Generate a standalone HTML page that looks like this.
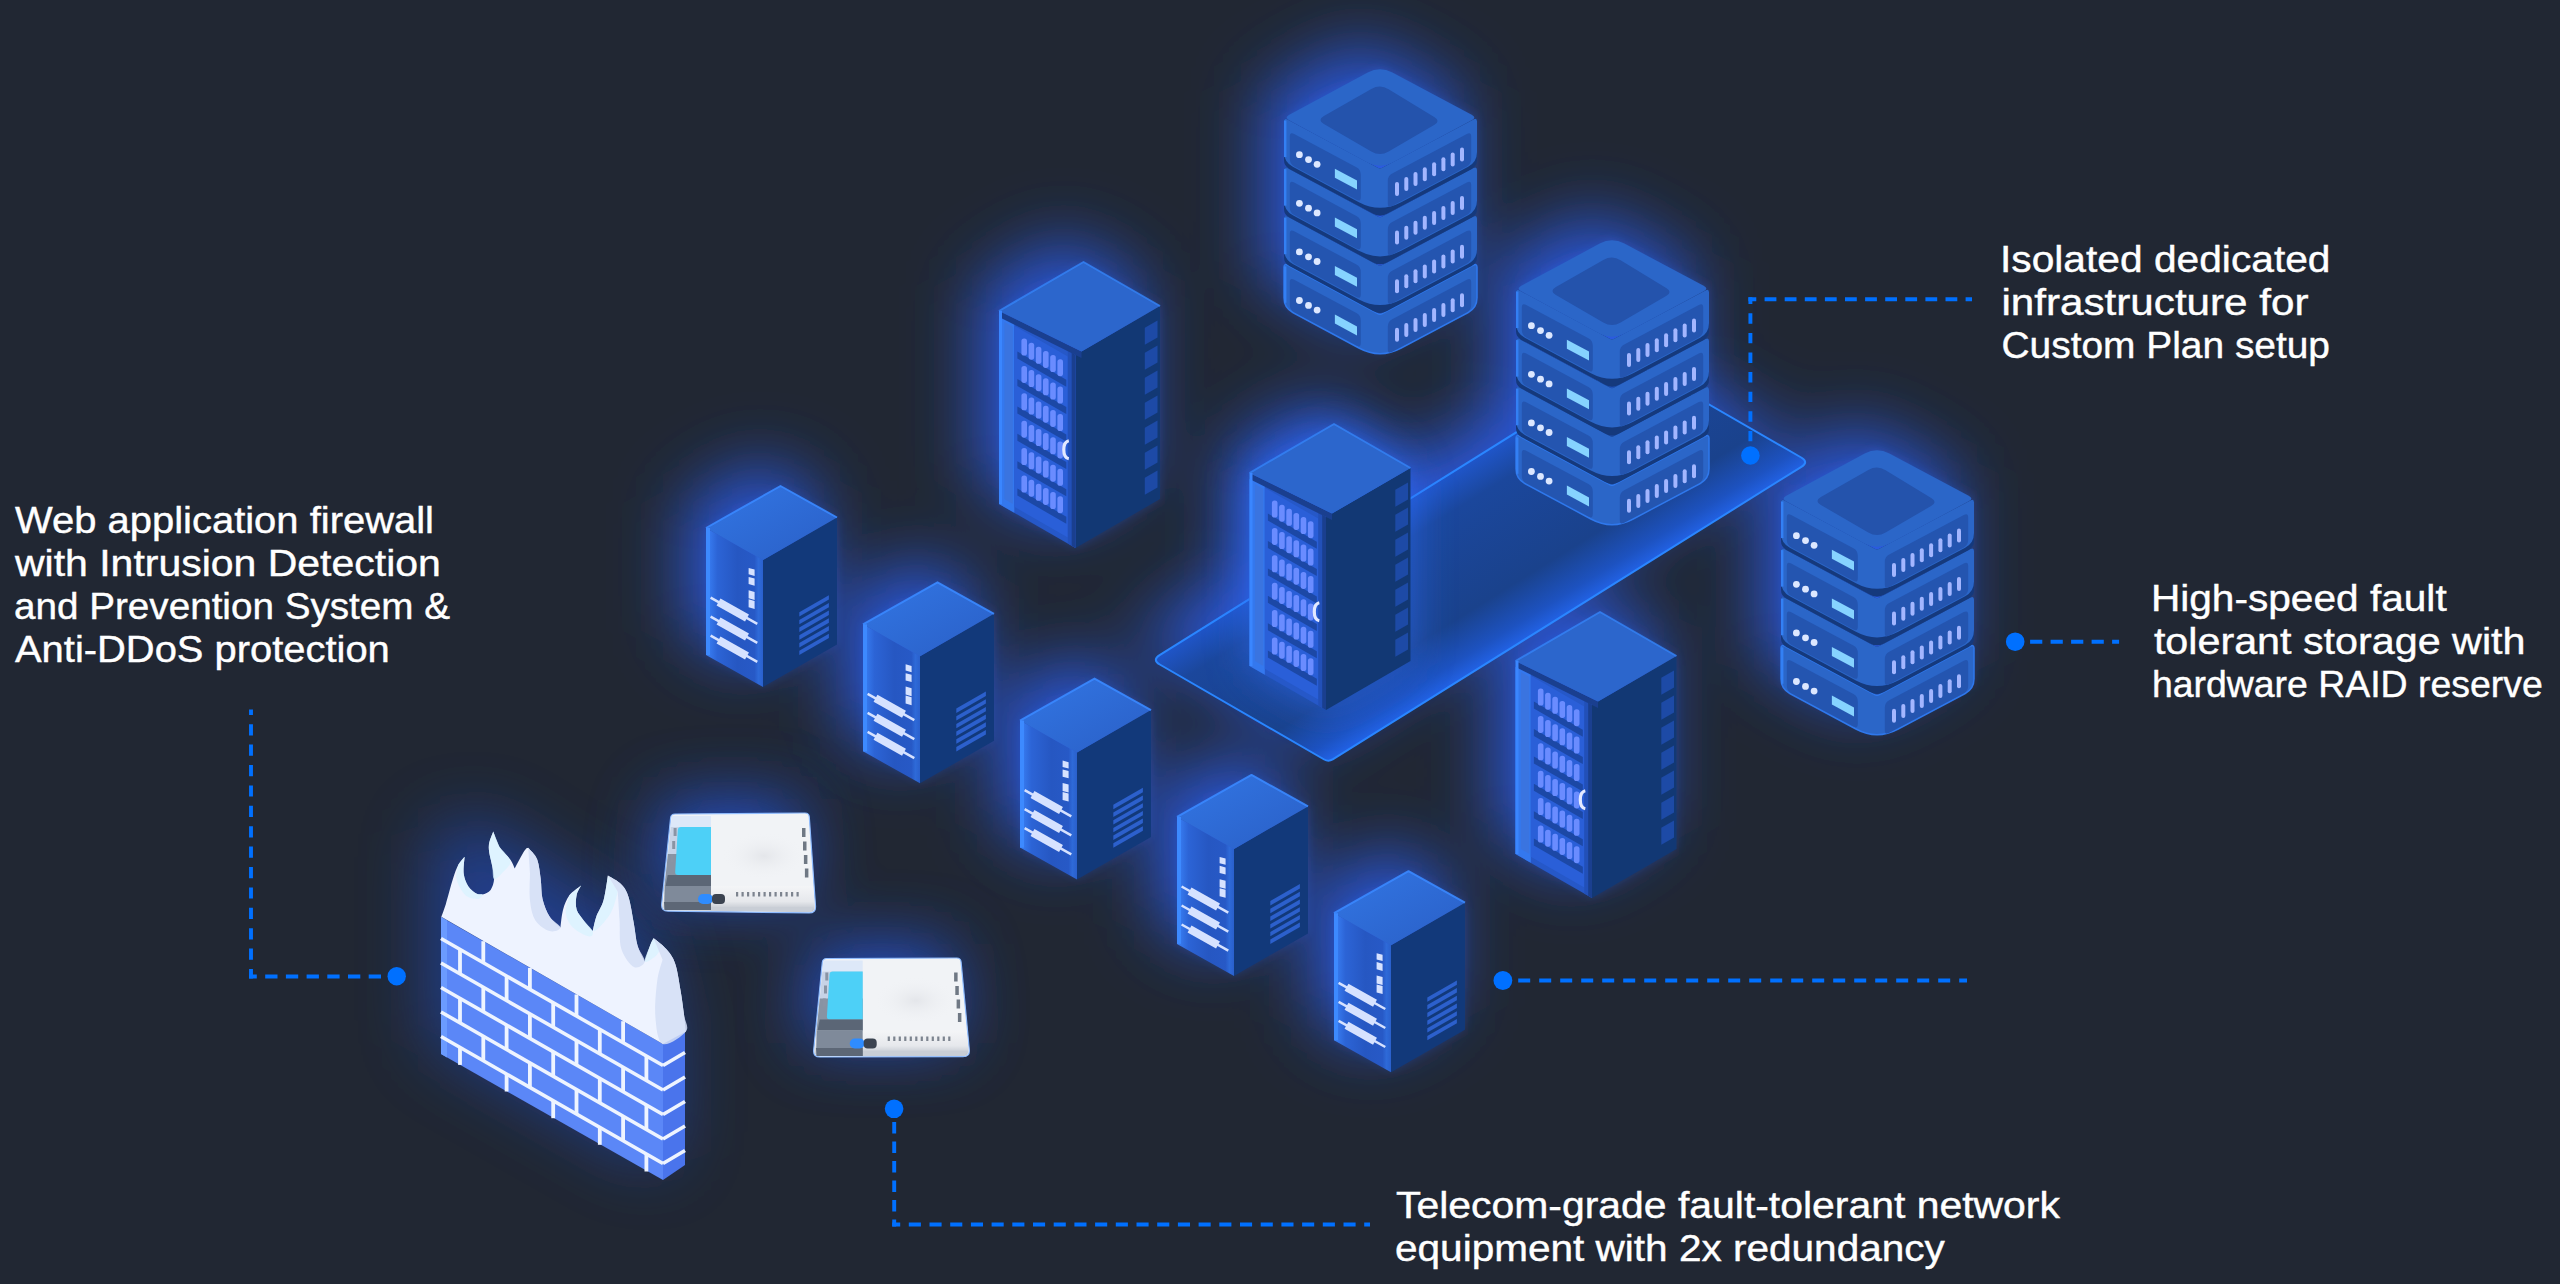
<!DOCTYPE html>
<html><head><meta charset="utf-8"><style>
html,body{margin:0;padding:0;background:#212733;width:2560px;height:1284px;overflow:hidden}
svg{display:block}
</style></head><body>
<svg width="2560" height="1284" viewBox="0 0 2560 1284">
<defs>
<linearGradient id="twL" x1="0" y1="0" x2="1" y2="0">
<stop offset="0" stop-color="#3a82f8"/><stop offset="0.2" stop-color="#2c64d6"/><stop offset="0.55" stop-color="#2657c2"/><stop offset="0.85" stop-color="#2759c6"/><stop offset="0.92" stop-color="#2e6ad8"/><stop offset="1" stop-color="#2a60cc"/></linearGradient>
<linearGradient id="twT" x1="0" y1="0" x2="1" y2="1">
<stop offset="0" stop-color="#3276e4"/><stop offset="1" stop-color="#2a5fc6"/></linearGradient>
<radialGradient id="rtShade"><stop offset="0" stop-color="#e4e6ea"/><stop offset="1" stop-color="#f1f3f6" stop-opacity="0"/></radialGradient>
<linearGradient id="rtFront" x1="0" y1="0" x2="0" y2="1"><stop offset="0" stop-color="#f4f5f7"/><stop offset="0.6" stop-color="#e6e8ec"/><stop offset="1" stop-color="#b8bec7"/></linearGradient>
<linearGradient id="plat" gradientUnits="userSpaceOnUse" x1="1152" y1="660" x2="1247" y2="813">
<stop offset="0" stop-color="#1f55c8"/><stop offset="0.18" stop-color="#1b479c"/><stop offset="0.7" stop-color="#1a428c"/><stop offset="0.9" stop-color="#1d52c0"/><stop offset="1" stop-color="#2262e6"/></linearGradient>
<filter id="glowW" x="-50%" y="-50%" width="200%" height="200%"><feGaussianBlur stdDeviation="34"/></filter>
<filter id="glowL" x="-50%" y="-50%" width="200%" height="200%"><feGaussianBlur stdDeviation="22"/></filter>
<filter id="glowN" x="-50%" y="-50%" width="200%" height="200%"><feGaussianBlur stdDeviation="5"/></filter>
</defs>
<rect width="2560" height="1284" fill="#212733"/>
<g filter="url(#glowW)" opacity="1.0" transform="translate(-20,-24)"><polygon points="1380.0,66.0 1477.0,117.0 1477.0,302.0 1380.0,353.0 1284.0,302.0 1284.0,117.0" fill="#2a56d8" />
<polygon points="1612.0,237.0 1709.0,288.0 1709.0,473.0 1612.0,524.0 1516.0,473.0 1516.0,288.0" fill="#2a56d8" />
<polygon points="1877.0,447.0 1974.0,498.0 1974.0,683.0 1877.0,734.0 1781.0,683.0 1781.0,498.0" fill="#2a56d8" />
<polygon points="1083.5,262.0 1160.0,306.0 1160.0,499.0 1075.5,548.0 999.0,504.0 999.0,311.0" fill="#2a56d8" />
<polygon points="1334.0,424.0 1410.5,468.0 1410.5,661.0 1326.0,710.0 1249.5,666.0 1249.5,473.0" fill="#2a56d8" />
<polygon points="1600.0,612.0 1676.5,656.0 1676.5,849.0 1592.0,898.0 1515.5,854.0 1515.5,661.0" fill="#2a56d8" />
<polygon points="780.5,486.0 837.0,517.5 837.0,643.5 763.0,686.0 706.0,654.0 706.0,528.0" fill="#2a56d8" />
<polygon points="937.5,582.3 994.0,613.8 994.0,739.8 920.0,782.3 863.0,750.3 863.0,624.3" fill="#2a56d8" />
<polygon points="1094.5,678.6 1151.0,710.1 1151.0,836.1 1077.0,878.6 1020.0,846.6 1020.0,720.6" fill="#2a56d8" />
<polygon points="1251.5,774.9 1308.0,806.4 1308.0,932.4 1234.0,974.9 1177.0,942.9 1177.0,816.9" fill="#2a56d8" />
<polygon points="1408.5,871.2 1465.0,902.7 1465.0,1028.7 1391.0,1071.2 1334.0,1039.2 1334.0,913.2" fill="#2a56d8" />
<polygon points="1152.0,660.0 1328.5,762.0 1809.0,462.0 1632.0,360.0" fill="#2a56d8" /></g>
<g filter="url(#glowW)" opacity="0.6" transform="translate(-12,-14)"><polygon points="441.0,850.0 491.0,832.0 663.0,940.0 685.0,1031.0 685.0,1165.0 663.0,1180.0 441.0,1054.0" fill="#2450c8" /></g>
<g filter="url(#glowW)" opacity="0.9" transform="translate(-10,-14)"><polygon points="671.0,814.0 809.0,813.0 816.0,913.0 661.0,911.0" fill="#2552d0" />
<polygon points="822.7,958.5 960.7,958.0 970.0,1056.7 813.0,1057.0" fill="#2552d0" /></g>
<g filter="url(#glowN)" opacity="0.2" transform="translate(0,0)"><polygon points="1380.0,66.0 1477.0,117.0 1477.0,302.0 1380.0,353.0 1284.0,302.0 1284.0,117.0" fill="#3070ff" />
<polygon points="1612.0,237.0 1709.0,288.0 1709.0,473.0 1612.0,524.0 1516.0,473.0 1516.0,288.0" fill="#3070ff" />
<polygon points="1877.0,447.0 1974.0,498.0 1974.0,683.0 1877.0,734.0 1781.0,683.0 1781.0,498.0" fill="#3070ff" />
<polygon points="1083.5,262.0 1160.0,306.0 1160.0,499.0 1075.5,548.0 999.0,504.0 999.0,311.0" fill="#3070ff" />
<polygon points="1334.0,424.0 1410.5,468.0 1410.5,661.0 1326.0,710.0 1249.5,666.0 1249.5,473.0" fill="#3070ff" />
<polygon points="1600.0,612.0 1676.5,656.0 1676.5,849.0 1592.0,898.0 1515.5,854.0 1515.5,661.0" fill="#3070ff" />
<polygon points="780.5,486.0 837.0,517.5 837.0,643.5 763.0,686.0 706.0,654.0 706.0,528.0" fill="#3070ff" />
<polygon points="937.5,582.3 994.0,613.8 994.0,739.8 920.0,782.3 863.0,750.3 863.0,624.3" fill="#3070ff" />
<polygon points="1094.5,678.6 1151.0,710.1 1151.0,836.1 1077.0,878.6 1020.0,846.6 1020.0,720.6" fill="#3070ff" />
<polygon points="1251.5,774.9 1308.0,806.4 1308.0,932.4 1234.0,974.9 1177.0,942.9 1177.0,816.9" fill="#3070ff" />
<polygon points="1408.5,871.2 1465.0,902.7 1465.0,1028.7 1391.0,1071.2 1334.0,1039.2 1334.0,913.2" fill="#3070ff" /></g>
<path d="M1159.6,655.2 Q1152.0,660.0 1159.8,664.5 L1324.2,759.5 Q1328.5,762.0 1332.7,759.4 L1801.4,466.8 Q1809.0,462.0 1801.2,457.5 L1636.3,362.5 Q1632.0,360.0 1627.8,362.6 Z" fill="url(#plat)" stroke="#2a86ff" stroke-width="2"/>
<g filter="url(#glowL)" opacity="0.7"><polygon points="1334.0,424.0 1410.5,468.0 1410.5,661.0 1326.0,710.0 1249.5,666.0 1249.5,473.0" fill="#2e6cf6" /></g>
<path d="M1284.0,267.3 Q1284.0,263.3 1287.5,265.2 L1378.2,313.9 Q1380.0,314.8 1381.8,313.9 L1473.5,265.2 Q1477.0,263.3 1477.0,267.3 L1477.0,297.8 Q1477.0,307.8 1468.2,312.5 L1401.2,348.0 Q1380.0,359.3 1358.9,348.0 L1292.8,312.5 Q1284.0,307.8 1284.0,297.8 Z" fill="#2b66c8" stroke="#2f78ec" stroke-width="1.5"/>
<path d="M1289.8,282.4 Q1289.8,277.4 1294.2,279.8 L1356.4,313.1 Q1360.8,315.5 1360.8,320.5 L1360.8,343.0 Q1360.8,348.0 1356.4,345.6 L1294.2,312.3 Q1289.8,309.9 1289.8,304.9 Z" fill="#2455b0" />
<path d="M1387.8,326.7 Q1387.8,321.7 1392.2,319.3 L1466.8,279.7 Q1471.2,277.4 1471.2,282.4 L1471.2,304.9 Q1471.2,309.9 1466.8,312.2 L1392.2,351.8 Q1387.8,354.2 1387.8,349.2 Z" fill="#2455b0" />
<line x1="1285.2" y1="266.3" x2="1285.2" y2="302.8" stroke="#3380f4" stroke-width="2.4"/>
<circle cx="1299.4" cy="300.5" r="3.4" fill="#dce7ff"/>
<circle cx="1308.5" cy="305.4" r="3.4" fill="#dce7ff"/>
<circle cx="1317.1" cy="310.1" r="3.4" fill="#dce7ff"/>
<polygon points="1334.9,314.6 1357.0,326.4 1357.0,335.4 1334.9,323.6" fill="#86d3ff" />
<rect x="1395.0" y="327.8" width="4" height="14" rx="2" fill="#a3b6ff"/>
<rect x="1404.3" y="322.9" width="4" height="14" rx="2" fill="#a3b6ff"/>
<rect x="1413.5" y="317.9" width="4" height="14" rx="2" fill="#a3b6ff"/>
<rect x="1422.8" y="313.0" width="4" height="14" rx="2" fill="#a3b6ff"/>
<rect x="1432.1" y="308.1" width="4" height="14" rx="2" fill="#a3b6ff"/>
<rect x="1441.4" y="303.1" width="4" height="14" rx="2" fill="#a3b6ff"/>
<rect x="1450.7" y="298.2" width="4" height="14" rx="2" fill="#a3b6ff"/>
<rect x="1460.0" y="293.3" width="4" height="14" rx="2" fill="#a3b6ff"/>
<path d="M1284.0,218.7 Q1284.0,214.7 1287.5,216.6 L1378.2,265.3 Q1380.0,266.2 1381.8,265.3 L1473.5,216.6 Q1477.0,214.7 1477.0,218.7 L1477.0,257.3 Q1477.0,263.3 1471.7,266.1 L1387.1,311.0 Q1380.0,314.8 1373.0,311.0 L1289.3,266.1 Q1284.0,263.3 1284.0,257.3 Z" fill="#15397c" />
<path d="M1284.0,218.7 Q1284.0,214.7 1287.5,216.6 L1378.2,265.3 Q1380.0,266.2 1381.8,265.3 L1473.5,216.6 Q1477.0,214.7 1477.0,218.7 L1477.0,249.2 Q1477.0,259.2 1468.2,263.9 L1401.2,299.4 Q1380.0,310.7 1358.9,299.4 L1292.8,263.9 Q1284.0,259.2 1284.0,249.2 Z" fill="#2b66c8" />
<path d="M1289.8,233.8 Q1289.8,228.8 1294.2,231.2 L1356.4,264.5 Q1360.8,266.9 1360.8,271.9 L1360.8,294.4 Q1360.8,299.4 1356.4,297.0 L1294.2,263.7 Q1289.8,261.3 1289.8,256.3 Z" fill="#2455b0" />
<path d="M1387.8,278.1 Q1387.8,273.1 1392.2,270.7 L1466.8,231.1 Q1471.2,228.8 1471.2,233.8 L1471.2,256.3 Q1471.2,261.3 1466.8,263.6 L1392.2,303.2 Q1387.8,305.6 1387.8,300.6 Z" fill="#2455b0" />
<line x1="1285.2" y1="217.7" x2="1285.2" y2="254.2" stroke="#3380f4" stroke-width="2.4"/>
<circle cx="1299.4" cy="251.9" r="3.4" fill="#dce7ff"/>
<circle cx="1308.5" cy="256.8" r="3.4" fill="#dce7ff"/>
<circle cx="1317.1" cy="261.5" r="3.4" fill="#dce7ff"/>
<polygon points="1334.9,266.0 1357.0,277.8 1357.0,286.8 1334.9,275.0" fill="#86d3ff" />
<rect x="1395.0" y="279.2" width="4" height="14" rx="2" fill="#a3b6ff"/>
<rect x="1404.3" y="274.3" width="4" height="14" rx="2" fill="#a3b6ff"/>
<rect x="1413.5" y="269.3" width="4" height="14" rx="2" fill="#a3b6ff"/>
<rect x="1422.8" y="264.4" width="4" height="14" rx="2" fill="#a3b6ff"/>
<rect x="1432.1" y="259.5" width="4" height="14" rx="2" fill="#a3b6ff"/>
<rect x="1441.4" y="254.5" width="4" height="14" rx="2" fill="#a3b6ff"/>
<rect x="1450.7" y="249.6" width="4" height="14" rx="2" fill="#a3b6ff"/>
<rect x="1460.0" y="244.7" width="4" height="14" rx="2" fill="#a3b6ff"/>
<path d="M1284.0,170.1 Q1284.0,166.1 1287.5,168.0 L1378.2,216.7 Q1380.0,217.6 1381.8,216.7 L1473.5,168.0 Q1477.0,166.1 1477.0,170.1 L1477.0,208.7 Q1477.0,214.7 1471.7,217.5 L1387.1,262.4 Q1380.0,266.2 1373.0,262.4 L1289.3,217.5 Q1284.0,214.7 1284.0,208.7 Z" fill="#15397c" />
<path d="M1284.0,170.1 Q1284.0,166.1 1287.5,168.0 L1378.2,216.7 Q1380.0,217.6 1381.8,216.7 L1473.5,168.0 Q1477.0,166.1 1477.0,170.1 L1477.0,200.6 Q1477.0,210.6 1468.2,215.3 L1401.2,250.8 Q1380.0,262.1 1358.9,250.8 L1292.8,215.3 Q1284.0,210.6 1284.0,200.6 Z" fill="#2b66c8" />
<path d="M1289.8,185.2 Q1289.8,180.2 1294.2,182.6 L1356.4,215.9 Q1360.8,218.3 1360.8,223.3 L1360.8,245.8 Q1360.8,250.8 1356.4,248.4 L1294.2,215.1 Q1289.8,212.7 1289.8,207.7 Z" fill="#2455b0" />
<path d="M1387.8,229.5 Q1387.8,224.5 1392.2,222.1 L1466.8,182.5 Q1471.2,180.2 1471.2,185.2 L1471.2,207.7 Q1471.2,212.7 1466.8,215.0 L1392.2,254.6 Q1387.8,257.0 1387.8,252.0 Z" fill="#2455b0" />
<line x1="1285.2" y1="169.1" x2="1285.2" y2="205.6" stroke="#3380f4" stroke-width="2.4"/>
<circle cx="1299.4" cy="203.3" r="3.4" fill="#dce7ff"/>
<circle cx="1308.5" cy="208.2" r="3.4" fill="#dce7ff"/>
<circle cx="1317.1" cy="212.9" r="3.4" fill="#dce7ff"/>
<polygon points="1334.9,217.4 1357.0,229.2 1357.0,238.2 1334.9,226.4" fill="#86d3ff" />
<rect x="1395.0" y="230.6" width="4" height="14" rx="2" fill="#a3b6ff"/>
<rect x="1404.3" y="225.7" width="4" height="14" rx="2" fill="#a3b6ff"/>
<rect x="1413.5" y="220.7" width="4" height="14" rx="2" fill="#a3b6ff"/>
<rect x="1422.8" y="215.8" width="4" height="14" rx="2" fill="#a3b6ff"/>
<rect x="1432.1" y="210.9" width="4" height="14" rx="2" fill="#a3b6ff"/>
<rect x="1441.4" y="205.9" width="4" height="14" rx="2" fill="#a3b6ff"/>
<rect x="1450.7" y="201.0" width="4" height="14" rx="2" fill="#a3b6ff"/>
<rect x="1460.0" y="196.1" width="4" height="14" rx="2" fill="#a3b6ff"/>
<path d="M1284.0,121.5 Q1284.0,117.5 1287.5,119.4 L1378.2,168.1 Q1380.0,169.0 1381.8,168.1 L1473.5,119.4 Q1477.0,117.5 1477.0,121.5 L1477.0,160.1 Q1477.0,166.1 1471.7,168.9 L1387.1,213.8 Q1380.0,217.6 1373.0,213.8 L1289.3,168.9 Q1284.0,166.1 1284.0,160.1 Z" fill="#15397c" />
<path d="M1284.0,121.5 Q1284.0,117.5 1287.5,119.4 L1378.2,168.1 Q1380.0,169.0 1381.8,168.1 L1473.5,119.4 Q1477.0,117.5 1477.0,121.5 L1477.0,152.0 Q1477.0,162.0 1468.2,166.7 L1401.2,202.2 Q1380.0,213.5 1358.9,202.2 L1292.8,166.7 Q1284.0,162.0 1284.0,152.0 Z" fill="#2b66c8" />
<path d="M1289.8,136.6 Q1289.8,131.6 1294.2,134.0 L1356.4,167.3 Q1360.8,169.7 1360.8,174.7 L1360.8,197.2 Q1360.8,202.2 1356.4,199.8 L1294.2,166.5 Q1289.8,164.1 1289.8,159.1 Z" fill="#2455b0" />
<path d="M1387.8,180.9 Q1387.8,175.9 1392.2,173.5 L1466.8,133.9 Q1471.2,131.6 1471.2,136.6 L1471.2,159.1 Q1471.2,164.1 1466.8,166.4 L1392.2,206.0 Q1387.8,208.4 1387.8,203.4 Z" fill="#2455b0" />
<line x1="1285.2" y1="120.5" x2="1285.2" y2="157.0" stroke="#3380f4" stroke-width="2.4"/>
<circle cx="1299.4" cy="154.7" r="3.4" fill="#dce7ff"/>
<circle cx="1308.5" cy="159.6" r="3.4" fill="#dce7ff"/>
<circle cx="1317.1" cy="164.3" r="3.4" fill="#dce7ff"/>
<polygon points="1334.9,168.8 1357.0,180.6 1357.0,189.6 1334.9,177.8" fill="#86d3ff" />
<rect x="1395.0" y="182.0" width="4" height="14" rx="2" fill="#a3b6ff"/>
<rect x="1404.3" y="177.1" width="4" height="14" rx="2" fill="#a3b6ff"/>
<rect x="1413.5" y="172.1" width="4" height="14" rx="2" fill="#a3b6ff"/>
<rect x="1422.8" y="167.2" width="4" height="14" rx="2" fill="#a3b6ff"/>
<rect x="1432.1" y="162.3" width="4" height="14" rx="2" fill="#a3b6ff"/>
<rect x="1441.4" y="157.3" width="4" height="14" rx="2" fill="#a3b6ff"/>
<rect x="1450.7" y="152.4" width="4" height="14" rx="2" fill="#a3b6ff"/>
<rect x="1460.0" y="147.5" width="4" height="14" rx="2" fill="#a3b6ff"/>
<path d="M1367.7,72.6 Q1380.0,66.0 1392.4,72.6 L1471.7,114.7 Q1477.0,117.5 1471.7,120.3 L1392.4,162.4 Q1380.0,169.0 1367.7,162.4 L1289.3,120.3 Q1284.0,117.5 1289.3,114.7 Z" fill="#2b66c8" />
<path d="M1371.3,89.0 Q1380.0,84.0 1388.6,89.2 L1434.2,116.9 Q1441.0,121.0 1434.1,125.0 L1388.6,151.5 Q1380.0,156.5 1371.3,151.5 L1323.9,124.0 Q1317.0,120.0 1323.9,116.0 Z" fill="#2453ac" />
<polygon points="999.0,311.0 1075.5,355.0 1075.5,548.0 999.0,504.0" fill="#2658c8" />
<polygon points="1075.5,355.0 1160.0,306.0 1160.0,499.0 1075.5,548.0" fill="#123874" />
<polygon points="999.0,311.0 1014.3,319.8 1014.3,512.8 999.0,504.0" fill="#3478ee" />
<polygon points="1004.4,322.1 1012.8,326.9 1012.8,503.9 1004.4,499.1" fill="#3a74e0" />
<polygon points="1014.3,325.8 1067.8,356.6 1067.8,537.6 1014.3,506.8" fill="#2a5fd8" />
<polygon points="1067.8,350.6 1075.5,355.0 1075.5,548.0 1067.8,543.6" fill="#2250b8" />
<polygon points="1071.7,352.8 1075.5,355.0 1075.5,548.0 1071.7,545.8" fill="#1a3f8f" />
<polygon points="1017.4,351.6 1066.3,379.7 1066.3,386.7 1017.4,358.6" fill="#1c48a6" />
<rect x="1021.4" y="338.5" width="5.6" height="17" rx="2.6" fill="#6a8cff"/>
<rect x="1028.6" y="342.7" width="5.6" height="17" rx="2.6" fill="#6a8cff"/>
<rect x="1035.8" y="346.8" width="5.6" height="17" rx="2.6" fill="#6a8cff"/>
<rect x="1043.0" y="350.9" width="5.6" height="17" rx="2.6" fill="#6a8cff"/>
<rect x="1050.2" y="355.1" width="5.6" height="17" rx="2.6" fill="#6a8cff"/>
<rect x="1057.4" y="359.2" width="5.6" height="17" rx="2.6" fill="#6a8cff"/>
<polygon points="1017.4,379.0 1066.3,407.1 1066.3,414.1 1017.4,386.0" fill="#1c48a6" />
<rect x="1021.4" y="365.9" width="5.6" height="17" rx="2.6" fill="#6a8cff"/>
<rect x="1028.6" y="370.1" width="5.6" height="17" rx="2.6" fill="#6a8cff"/>
<rect x="1035.8" y="374.2" width="5.6" height="17" rx="2.6" fill="#6a8cff"/>
<rect x="1043.0" y="378.3" width="5.6" height="17" rx="2.6" fill="#6a8cff"/>
<rect x="1050.2" y="382.5" width="5.6" height="17" rx="2.6" fill="#6a8cff"/>
<rect x="1057.4" y="386.6" width="5.6" height="17" rx="2.6" fill="#6a8cff"/>
<polygon points="1017.4,406.4 1066.3,434.5 1066.3,441.5 1017.4,413.4" fill="#1c48a6" />
<rect x="1021.4" y="393.3" width="5.6" height="17" rx="2.6" fill="#6a8cff"/>
<rect x="1028.6" y="397.5" width="5.6" height="17" rx="2.6" fill="#6a8cff"/>
<rect x="1035.8" y="401.6" width="5.6" height="17" rx="2.6" fill="#6a8cff"/>
<rect x="1043.0" y="405.7" width="5.6" height="17" rx="2.6" fill="#6a8cff"/>
<rect x="1050.2" y="409.9" width="5.6" height="17" rx="2.6" fill="#6a8cff"/>
<rect x="1057.4" y="414.0" width="5.6" height="17" rx="2.6" fill="#6a8cff"/>
<polygon points="1017.4,433.8 1066.3,461.9 1066.3,468.9 1017.4,440.8" fill="#1c48a6" />
<rect x="1021.4" y="420.7" width="5.6" height="17" rx="2.6" fill="#6a8cff"/>
<rect x="1028.6" y="424.9" width="5.6" height="17" rx="2.6" fill="#6a8cff"/>
<rect x="1035.8" y="429.0" width="5.6" height="17" rx="2.6" fill="#6a8cff"/>
<rect x="1043.0" y="433.1" width="5.6" height="17" rx="2.6" fill="#6a8cff"/>
<rect x="1050.2" y="437.3" width="5.6" height="17" rx="2.6" fill="#6a8cff"/>
<rect x="1057.4" y="441.4" width="5.6" height="17" rx="2.6" fill="#6a8cff"/>
<polygon points="1017.4,461.2 1066.3,489.3 1066.3,496.3 1017.4,468.2" fill="#1c48a6" />
<rect x="1021.4" y="448.1" width="5.6" height="17" rx="2.6" fill="#6a8cff"/>
<rect x="1028.6" y="452.3" width="5.6" height="17" rx="2.6" fill="#6a8cff"/>
<rect x="1035.8" y="456.4" width="5.6" height="17" rx="2.6" fill="#6a8cff"/>
<rect x="1043.0" y="460.5" width="5.6" height="17" rx="2.6" fill="#6a8cff"/>
<rect x="1050.2" y="464.7" width="5.6" height="17" rx="2.6" fill="#6a8cff"/>
<rect x="1057.4" y="468.8" width="5.6" height="17" rx="2.6" fill="#6a8cff"/>
<polygon points="1017.4,488.6 1066.3,516.7 1066.3,523.7 1017.4,495.6" fill="#1c48a6" />
<rect x="1021.4" y="475.5" width="5.6" height="17" rx="2.6" fill="#6a8cff"/>
<rect x="1028.6" y="479.7" width="5.6" height="17" rx="2.6" fill="#6a8cff"/>
<rect x="1035.8" y="483.8" width="5.6" height="17" rx="2.6" fill="#6a8cff"/>
<rect x="1043.0" y="487.9" width="5.6" height="17" rx="2.6" fill="#6a8cff"/>
<rect x="1050.2" y="492.1" width="5.6" height="17" rx="2.6" fill="#6a8cff"/>
<rect x="1057.4" y="496.2" width="5.6" height="17" rx="2.6" fill="#6a8cff"/>
<polygon points="999.0,311.0 1081.5,351.5 1081.5,358.0 999.0,317.0" fill="#1a3f8f" />
<polygon points="1083.5,262.0 1160.0,306.0 1081.5,351.5 999.0,311.0" fill="#2c66cc" />
<polyline points="999.0,311.0 1083.5,262.0 1160.0,306.0" fill="none" stroke="#3583f6" stroke-width="2" stroke-linejoin="round" opacity="0.8"/>
<path d="M1068.8,440.8 q-5,1 -5,9 q0,8 5,9" fill="none" stroke="#e3e9ff" stroke-width="3.2"/>
<polygon points="1144.8,327.8 1157.5,320.5 1157.5,337.5 1144.8,344.8" fill="#1d4aa6" />
<polygon points="1144.8,352.8 1157.5,345.5 1157.5,362.5 1144.8,369.8" fill="#1d4aa6" />
<polygon points="1144.8,377.8 1157.5,370.5 1157.5,387.5 1144.8,394.8" fill="#1d4aa6" />
<polygon points="1144.8,402.8 1157.5,395.5 1157.5,412.5 1144.8,419.8" fill="#1d4aa6" />
<polygon points="1144.8,427.8 1157.5,420.5 1157.5,437.5 1144.8,444.8" fill="#1d4aa6" />
<polygon points="1144.8,452.8 1157.5,445.5 1157.5,462.5 1144.8,469.8" fill="#1d4aa6" />
<polygon points="1144.8,477.8 1157.5,470.5 1157.5,487.5 1144.8,494.8" fill="#1d4aa6" />
<line x1="1000.5" y1="311" x2="1000.5" y2="504" stroke="#3a86ff" stroke-width="3"/>
<path d="M1516.0,438.3 Q1516.0,434.3 1519.5,436.2 L1610.2,484.9 Q1612.0,485.8 1613.8,484.9 L1705.5,436.2 Q1709.0,434.3 1709.0,438.3 L1709.0,468.8 Q1709.0,478.8 1700.2,483.5 L1633.2,519.0 Q1612.0,530.3 1590.9,519.0 L1524.8,483.5 Q1516.0,478.8 1516.0,468.8 Z" fill="#2b66c8" stroke="#2f78ec" stroke-width="1.5"/>
<path d="M1521.8,453.4 Q1521.8,448.4 1526.2,450.8 L1588.4,484.1 Q1592.8,486.5 1592.8,491.5 L1592.8,514.0 Q1592.8,519.0 1588.4,516.6 L1526.2,483.3 Q1521.8,480.9 1521.8,475.9 Z" fill="#2455b0" />
<path d="M1619.8,497.7 Q1619.8,492.7 1624.2,490.3 L1698.8,450.7 Q1703.2,448.4 1703.2,453.4 L1703.2,475.9 Q1703.2,480.9 1698.8,483.2 L1624.2,522.8 Q1619.8,525.2 1619.8,520.2 Z" fill="#2455b0" />
<line x1="1517.2" y1="437.3" x2="1517.2" y2="473.8" stroke="#3380f4" stroke-width="2.4"/>
<circle cx="1531.4" cy="471.5" r="3.4" fill="#dce7ff"/>
<circle cx="1540.5" cy="476.4" r="3.4" fill="#dce7ff"/>
<circle cx="1549.1" cy="481.1" r="3.4" fill="#dce7ff"/>
<polygon points="1566.9,485.6 1589.0,497.4 1589.0,506.4 1566.9,494.6" fill="#86d3ff" />
<rect x="1627.0" y="498.8" width="4" height="14" rx="2" fill="#a3b6ff"/>
<rect x="1636.3" y="493.9" width="4" height="14" rx="2" fill="#a3b6ff"/>
<rect x="1645.5" y="488.9" width="4" height="14" rx="2" fill="#a3b6ff"/>
<rect x="1654.8" y="484.0" width="4" height="14" rx="2" fill="#a3b6ff"/>
<rect x="1664.1" y="479.1" width="4" height="14" rx="2" fill="#a3b6ff"/>
<rect x="1673.4" y="474.1" width="4" height="14" rx="2" fill="#a3b6ff"/>
<rect x="1682.7" y="469.2" width="4" height="14" rx="2" fill="#a3b6ff"/>
<rect x="1692.0" y="464.3" width="4" height="14" rx="2" fill="#a3b6ff"/>
<path d="M1516.0,389.7 Q1516.0,385.7 1519.5,387.6 L1610.2,436.3 Q1612.0,437.2 1613.8,436.3 L1705.5,387.6 Q1709.0,385.7 1709.0,389.7 L1709.0,428.3 Q1709.0,434.3 1703.7,437.1 L1619.1,482.0 Q1612.0,485.8 1605.0,482.0 L1521.3,437.1 Q1516.0,434.3 1516.0,428.3 Z" fill="#15397c" />
<path d="M1516.0,389.7 Q1516.0,385.7 1519.5,387.6 L1610.2,436.3 Q1612.0,437.2 1613.8,436.3 L1705.5,387.6 Q1709.0,385.7 1709.0,389.7 L1709.0,420.2 Q1709.0,430.2 1700.2,434.9 L1633.2,470.4 Q1612.0,481.7 1590.9,470.4 L1524.8,434.9 Q1516.0,430.2 1516.0,420.2 Z" fill="#2b66c8" />
<path d="M1521.8,404.8 Q1521.8,399.8 1526.2,402.2 L1588.4,435.5 Q1592.8,437.9 1592.8,442.9 L1592.8,465.4 Q1592.8,470.4 1588.4,468.0 L1526.2,434.7 Q1521.8,432.3 1521.8,427.3 Z" fill="#2455b0" />
<path d="M1619.8,449.1 Q1619.8,444.1 1624.2,441.7 L1698.8,402.1 Q1703.2,399.8 1703.2,404.8 L1703.2,427.3 Q1703.2,432.3 1698.8,434.6 L1624.2,474.2 Q1619.8,476.6 1619.8,471.6 Z" fill="#2455b0" />
<line x1="1517.2" y1="388.7" x2="1517.2" y2="425.2" stroke="#3380f4" stroke-width="2.4"/>
<circle cx="1531.4" cy="422.9" r="3.4" fill="#dce7ff"/>
<circle cx="1540.5" cy="427.8" r="3.4" fill="#dce7ff"/>
<circle cx="1549.1" cy="432.5" r="3.4" fill="#dce7ff"/>
<polygon points="1566.9,437.0 1589.0,448.8 1589.0,457.8 1566.9,446.0" fill="#86d3ff" />
<rect x="1627.0" y="450.2" width="4" height="14" rx="2" fill="#a3b6ff"/>
<rect x="1636.3" y="445.3" width="4" height="14" rx="2" fill="#a3b6ff"/>
<rect x="1645.5" y="440.3" width="4" height="14" rx="2" fill="#a3b6ff"/>
<rect x="1654.8" y="435.4" width="4" height="14" rx="2" fill="#a3b6ff"/>
<rect x="1664.1" y="430.5" width="4" height="14" rx="2" fill="#a3b6ff"/>
<rect x="1673.4" y="425.5" width="4" height="14" rx="2" fill="#a3b6ff"/>
<rect x="1682.7" y="420.6" width="4" height="14" rx="2" fill="#a3b6ff"/>
<rect x="1692.0" y="415.7" width="4" height="14" rx="2" fill="#a3b6ff"/>
<path d="M1516.0,341.1 Q1516.0,337.1 1519.5,339.0 L1610.2,387.7 Q1612.0,388.6 1613.8,387.7 L1705.5,339.0 Q1709.0,337.1 1709.0,341.1 L1709.0,379.7 Q1709.0,385.7 1703.7,388.5 L1619.1,433.4 Q1612.0,437.2 1605.0,433.4 L1521.3,388.5 Q1516.0,385.7 1516.0,379.7 Z" fill="#15397c" />
<path d="M1516.0,341.1 Q1516.0,337.1 1519.5,339.0 L1610.2,387.7 Q1612.0,388.6 1613.8,387.7 L1705.5,339.0 Q1709.0,337.1 1709.0,341.1 L1709.0,371.6 Q1709.0,381.6 1700.2,386.3 L1633.2,421.8 Q1612.0,433.1 1590.9,421.8 L1524.8,386.3 Q1516.0,381.6 1516.0,371.6 Z" fill="#2b66c8" />
<path d="M1521.8,356.2 Q1521.8,351.2 1526.2,353.6 L1588.4,386.9 Q1592.8,389.3 1592.8,394.3 L1592.8,416.8 Q1592.8,421.8 1588.4,419.4 L1526.2,386.1 Q1521.8,383.7 1521.8,378.7 Z" fill="#2455b0" />
<path d="M1619.8,400.5 Q1619.8,395.5 1624.2,393.1 L1698.8,353.5 Q1703.2,351.2 1703.2,356.2 L1703.2,378.7 Q1703.2,383.7 1698.8,386.0 L1624.2,425.6 Q1619.8,428.0 1619.8,423.0 Z" fill="#2455b0" />
<line x1="1517.2" y1="340.1" x2="1517.2" y2="376.6" stroke="#3380f4" stroke-width="2.4"/>
<circle cx="1531.4" cy="374.3" r="3.4" fill="#dce7ff"/>
<circle cx="1540.5" cy="379.2" r="3.4" fill="#dce7ff"/>
<circle cx="1549.1" cy="383.9" r="3.4" fill="#dce7ff"/>
<polygon points="1566.9,388.4 1589.0,400.2 1589.0,409.2 1566.9,397.4" fill="#86d3ff" />
<rect x="1627.0" y="401.6" width="4" height="14" rx="2" fill="#a3b6ff"/>
<rect x="1636.3" y="396.7" width="4" height="14" rx="2" fill="#a3b6ff"/>
<rect x="1645.5" y="391.7" width="4" height="14" rx="2" fill="#a3b6ff"/>
<rect x="1654.8" y="386.8" width="4" height="14" rx="2" fill="#a3b6ff"/>
<rect x="1664.1" y="381.9" width="4" height="14" rx="2" fill="#a3b6ff"/>
<rect x="1673.4" y="376.9" width="4" height="14" rx="2" fill="#a3b6ff"/>
<rect x="1682.7" y="372.0" width="4" height="14" rx="2" fill="#a3b6ff"/>
<rect x="1692.0" y="367.1" width="4" height="14" rx="2" fill="#a3b6ff"/>
<path d="M1516.0,292.5 Q1516.0,288.5 1519.5,290.4 L1610.2,339.1 Q1612.0,340.0 1613.8,339.1 L1705.5,290.4 Q1709.0,288.5 1709.0,292.5 L1709.0,331.1 Q1709.0,337.1 1703.7,339.9 L1619.1,384.8 Q1612.0,388.6 1605.0,384.8 L1521.3,339.9 Q1516.0,337.1 1516.0,331.1 Z" fill="#15397c" />
<path d="M1516.0,292.5 Q1516.0,288.5 1519.5,290.4 L1610.2,339.1 Q1612.0,340.0 1613.8,339.1 L1705.5,290.4 Q1709.0,288.5 1709.0,292.5 L1709.0,323.0 Q1709.0,333.0 1700.2,337.7 L1633.2,373.2 Q1612.0,384.5 1590.9,373.2 L1524.8,337.7 Q1516.0,333.0 1516.0,323.0 Z" fill="#2b66c8" />
<path d="M1521.8,307.6 Q1521.8,302.6 1526.2,305.0 L1588.4,338.3 Q1592.8,340.7 1592.8,345.7 L1592.8,368.2 Q1592.8,373.2 1588.4,370.8 L1526.2,337.5 Q1521.8,335.1 1521.8,330.1 Z" fill="#2455b0" />
<path d="M1619.8,351.9 Q1619.8,346.9 1624.2,344.5 L1698.8,304.9 Q1703.2,302.6 1703.2,307.6 L1703.2,330.1 Q1703.2,335.1 1698.8,337.4 L1624.2,377.0 Q1619.8,379.4 1619.8,374.4 Z" fill="#2455b0" />
<line x1="1517.2" y1="291.5" x2="1517.2" y2="328.0" stroke="#3380f4" stroke-width="2.4"/>
<circle cx="1531.4" cy="325.7" r="3.4" fill="#dce7ff"/>
<circle cx="1540.5" cy="330.6" r="3.4" fill="#dce7ff"/>
<circle cx="1549.1" cy="335.3" r="3.4" fill="#dce7ff"/>
<polygon points="1566.9,339.8 1589.0,351.6 1589.0,360.6 1566.9,348.8" fill="#86d3ff" />
<rect x="1627.0" y="353.0" width="4" height="14" rx="2" fill="#a3b6ff"/>
<rect x="1636.3" y="348.1" width="4" height="14" rx="2" fill="#a3b6ff"/>
<rect x="1645.5" y="343.1" width="4" height="14" rx="2" fill="#a3b6ff"/>
<rect x="1654.8" y="338.2" width="4" height="14" rx="2" fill="#a3b6ff"/>
<rect x="1664.1" y="333.3" width="4" height="14" rx="2" fill="#a3b6ff"/>
<rect x="1673.4" y="328.3" width="4" height="14" rx="2" fill="#a3b6ff"/>
<rect x="1682.7" y="323.4" width="4" height="14" rx="2" fill="#a3b6ff"/>
<rect x="1692.0" y="318.5" width="4" height="14" rx="2" fill="#a3b6ff"/>
<path d="M1599.7,243.6 Q1612.0,237.0 1624.4,243.6 L1703.7,285.7 Q1709.0,288.5 1703.7,291.3 L1624.4,333.4 Q1612.0,340.0 1599.7,333.4 L1521.3,291.3 Q1516.0,288.5 1521.3,285.7 Z" fill="#2b66c8" />
<path d="M1603.3,260.0 Q1612.0,255.0 1620.6,260.2 L1666.2,287.9 Q1673.0,292.0 1666.1,296.0 L1620.6,322.5 Q1612.0,327.5 1603.3,322.5 L1555.9,295.0 Q1549.0,291.0 1555.9,287.0 Z" fill="#2453ac" />
<polygon points="1249.5,473.0 1326.0,517.0 1326.0,710.0 1249.5,666.0" fill="#2658c8" />
<polygon points="1326.0,517.0 1410.5,468.0 1410.5,661.0 1326.0,710.0" fill="#123874" />
<polygon points="1249.5,473.0 1264.8,481.8 1264.8,674.8 1249.5,666.0" fill="#3478ee" />
<polygon points="1254.9,484.1 1263.3,488.9 1263.3,665.9 1254.9,661.1" fill="#3a74e0" />
<polygon points="1264.8,487.8 1318.3,518.6 1318.3,699.6 1264.8,668.8" fill="#2a5fd8" />
<polygon points="1318.3,512.6 1326.0,517.0 1326.0,710.0 1318.3,705.6" fill="#2250b8" />
<polygon points="1322.2,514.8 1326.0,517.0 1326.0,710.0 1322.2,707.8" fill="#1a3f8f" />
<polygon points="1267.9,513.6 1316.8,541.7 1316.8,548.7 1267.9,520.6" fill="#1c48a6" />
<rect x="1271.9" y="500.5" width="5.6" height="17" rx="2.6" fill="#6a8cff"/>
<rect x="1279.1" y="504.7" width="5.6" height="17" rx="2.6" fill="#6a8cff"/>
<rect x="1286.3" y="508.8" width="5.6" height="17" rx="2.6" fill="#6a8cff"/>
<rect x="1293.5" y="512.9" width="5.6" height="17" rx="2.6" fill="#6a8cff"/>
<rect x="1300.7" y="517.1" width="5.6" height="17" rx="2.6" fill="#6a8cff"/>
<rect x="1307.9" y="521.2" width="5.6" height="17" rx="2.6" fill="#6a8cff"/>
<polygon points="1267.9,541.0 1316.8,569.1 1316.8,576.1 1267.9,548.0" fill="#1c48a6" />
<rect x="1271.9" y="527.9" width="5.6" height="17" rx="2.6" fill="#6a8cff"/>
<rect x="1279.1" y="532.1" width="5.6" height="17" rx="2.6" fill="#6a8cff"/>
<rect x="1286.3" y="536.2" width="5.6" height="17" rx="2.6" fill="#6a8cff"/>
<rect x="1293.5" y="540.3" width="5.6" height="17" rx="2.6" fill="#6a8cff"/>
<rect x="1300.7" y="544.5" width="5.6" height="17" rx="2.6" fill="#6a8cff"/>
<rect x="1307.9" y="548.6" width="5.6" height="17" rx="2.6" fill="#6a8cff"/>
<polygon points="1267.9,568.4 1316.8,596.5 1316.8,603.5 1267.9,575.4" fill="#1c48a6" />
<rect x="1271.9" y="555.3" width="5.6" height="17" rx="2.6" fill="#6a8cff"/>
<rect x="1279.1" y="559.5" width="5.6" height="17" rx="2.6" fill="#6a8cff"/>
<rect x="1286.3" y="563.6" width="5.6" height="17" rx="2.6" fill="#6a8cff"/>
<rect x="1293.5" y="567.7" width="5.6" height="17" rx="2.6" fill="#6a8cff"/>
<rect x="1300.7" y="571.9" width="5.6" height="17" rx="2.6" fill="#6a8cff"/>
<rect x="1307.9" y="576.0" width="5.6" height="17" rx="2.6" fill="#6a8cff"/>
<polygon points="1267.9,595.8 1316.8,623.9 1316.8,630.9 1267.9,602.8" fill="#1c48a6" />
<rect x="1271.9" y="582.7" width="5.6" height="17" rx="2.6" fill="#6a8cff"/>
<rect x="1279.1" y="586.9" width="5.6" height="17" rx="2.6" fill="#6a8cff"/>
<rect x="1286.3" y="591.0" width="5.6" height="17" rx="2.6" fill="#6a8cff"/>
<rect x="1293.5" y="595.1" width="5.6" height="17" rx="2.6" fill="#6a8cff"/>
<rect x="1300.7" y="599.3" width="5.6" height="17" rx="2.6" fill="#6a8cff"/>
<rect x="1307.9" y="603.4" width="5.6" height="17" rx="2.6" fill="#6a8cff"/>
<polygon points="1267.9,623.2 1316.8,651.3 1316.8,658.3 1267.9,630.2" fill="#1c48a6" />
<rect x="1271.9" y="610.1" width="5.6" height="17" rx="2.6" fill="#6a8cff"/>
<rect x="1279.1" y="614.3" width="5.6" height="17" rx="2.6" fill="#6a8cff"/>
<rect x="1286.3" y="618.4" width="5.6" height="17" rx="2.6" fill="#6a8cff"/>
<rect x="1293.5" y="622.5" width="5.6" height="17" rx="2.6" fill="#6a8cff"/>
<rect x="1300.7" y="626.7" width="5.6" height="17" rx="2.6" fill="#6a8cff"/>
<rect x="1307.9" y="630.8" width="5.6" height="17" rx="2.6" fill="#6a8cff"/>
<polygon points="1267.9,650.6 1316.8,678.7 1316.8,685.7 1267.9,657.6" fill="#1c48a6" />
<rect x="1271.9" y="637.5" width="5.6" height="17" rx="2.6" fill="#6a8cff"/>
<rect x="1279.1" y="641.7" width="5.6" height="17" rx="2.6" fill="#6a8cff"/>
<rect x="1286.3" y="645.8" width="5.6" height="17" rx="2.6" fill="#6a8cff"/>
<rect x="1293.5" y="649.9" width="5.6" height="17" rx="2.6" fill="#6a8cff"/>
<rect x="1300.7" y="654.1" width="5.6" height="17" rx="2.6" fill="#6a8cff"/>
<rect x="1307.9" y="658.2" width="5.6" height="17" rx="2.6" fill="#6a8cff"/>
<polygon points="1249.5,473.0 1332.0,513.5 1332.0,520.0 1249.5,479.0" fill="#1a3f8f" />
<polygon points="1334.0,424.0 1410.5,468.0 1332.0,513.5 1249.5,473.0" fill="#2c66cc" />
<polyline points="1249.5,473.0 1334.0,424.0 1410.5,468.0" fill="none" stroke="#3583f6" stroke-width="2" stroke-linejoin="round" opacity="0.8"/>
<path d="M1319.3,602.8 q-5,1 -5,9 q0,8 5,9" fill="none" stroke="#e3e9ff" stroke-width="3.2"/>
<polygon points="1395.3,489.8 1408.0,482.5 1408.0,499.5 1395.3,506.8" fill="#1d4aa6" />
<polygon points="1395.3,514.8 1408.0,507.5 1408.0,524.5 1395.3,531.8" fill="#1d4aa6" />
<polygon points="1395.3,539.8 1408.0,532.5 1408.0,549.5 1395.3,556.8" fill="#1d4aa6" />
<polygon points="1395.3,564.8 1408.0,557.5 1408.0,574.5 1395.3,581.8" fill="#1d4aa6" />
<polygon points="1395.3,589.8 1408.0,582.5 1408.0,599.5 1395.3,606.8" fill="#1d4aa6" />
<polygon points="1395.3,614.8 1408.0,607.5 1408.0,624.5 1395.3,631.8" fill="#1d4aa6" />
<polygon points="1395.3,639.8 1408.0,632.5 1408.0,649.5 1395.3,656.8" fill="#1d4aa6" />
<line x1="1251.0" y1="473" x2="1251.0" y2="666" stroke="#3a86ff" stroke-width="3"/>
<path d="M1781.0,648.3 Q1781.0,644.3 1784.5,646.2 L1875.2,694.9 Q1877.0,695.8 1878.8,694.9 L1970.5,646.2 Q1974.0,644.3 1974.0,648.3 L1974.0,678.8 Q1974.0,688.8 1965.2,693.5 L1898.2,729.0 Q1877.0,740.3 1855.9,729.0 L1789.8,693.5 Q1781.0,688.8 1781.0,678.8 Z" fill="#2b66c8" stroke="#2f78ec" stroke-width="1.5"/>
<path d="M1786.8,663.4 Q1786.8,658.4 1791.2,660.8 L1853.4,694.1 Q1857.8,696.5 1857.8,701.5 L1857.8,724.0 Q1857.8,729.0 1853.4,726.6 L1791.2,693.3 Q1786.8,690.9 1786.8,685.9 Z" fill="#2455b0" />
<path d="M1884.8,707.7 Q1884.8,702.7 1889.2,700.3 L1963.8,660.7 Q1968.2,658.4 1968.2,663.4 L1968.2,685.9 Q1968.2,690.9 1963.8,693.2 L1889.2,732.8 Q1884.8,735.2 1884.8,730.2 Z" fill="#2455b0" />
<line x1="1782.2" y1="647.3" x2="1782.2" y2="683.8" stroke="#3380f4" stroke-width="2.4"/>
<circle cx="1796.4" cy="681.5" r="3.4" fill="#dce7ff"/>
<circle cx="1805.5" cy="686.4" r="3.4" fill="#dce7ff"/>
<circle cx="1814.1" cy="691.1" r="3.4" fill="#dce7ff"/>
<polygon points="1831.9,695.6 1854.0,707.4 1854.0,716.4 1831.9,704.6" fill="#86d3ff" />
<rect x="1892.0" y="708.8" width="4" height="14" rx="2" fill="#a3b6ff"/>
<rect x="1901.3" y="703.9" width="4" height="14" rx="2" fill="#a3b6ff"/>
<rect x="1910.5" y="698.9" width="4" height="14" rx="2" fill="#a3b6ff"/>
<rect x="1919.8" y="694.0" width="4" height="14" rx="2" fill="#a3b6ff"/>
<rect x="1929.1" y="689.1" width="4" height="14" rx="2" fill="#a3b6ff"/>
<rect x="1938.4" y="684.1" width="4" height="14" rx="2" fill="#a3b6ff"/>
<rect x="1947.7" y="679.2" width="4" height="14" rx="2" fill="#a3b6ff"/>
<rect x="1957.0" y="674.3" width="4" height="14" rx="2" fill="#a3b6ff"/>
<path d="M1781.0,599.7 Q1781.0,595.7 1784.5,597.6 L1875.2,646.3 Q1877.0,647.2 1878.8,646.3 L1970.5,597.6 Q1974.0,595.7 1974.0,599.7 L1974.0,638.3 Q1974.0,644.3 1968.7,647.1 L1884.1,692.0 Q1877.0,695.8 1870.0,692.0 L1786.3,647.1 Q1781.0,644.3 1781.0,638.3 Z" fill="#15397c" />
<path d="M1781.0,599.7 Q1781.0,595.7 1784.5,597.6 L1875.2,646.3 Q1877.0,647.2 1878.8,646.3 L1970.5,597.6 Q1974.0,595.7 1974.0,599.7 L1974.0,630.2 Q1974.0,640.2 1965.2,644.9 L1898.2,680.4 Q1877.0,691.7 1855.9,680.4 L1789.8,644.9 Q1781.0,640.2 1781.0,630.2 Z" fill="#2b66c8" />
<path d="M1786.8,614.8 Q1786.8,609.8 1791.2,612.2 L1853.4,645.5 Q1857.8,647.9 1857.8,652.9 L1857.8,675.4 Q1857.8,680.4 1853.4,678.0 L1791.2,644.7 Q1786.8,642.3 1786.8,637.3 Z" fill="#2455b0" />
<path d="M1884.8,659.1 Q1884.8,654.1 1889.2,651.7 L1963.8,612.1 Q1968.2,609.8 1968.2,614.8 L1968.2,637.3 Q1968.2,642.3 1963.8,644.6 L1889.2,684.2 Q1884.8,686.6 1884.8,681.6 Z" fill="#2455b0" />
<line x1="1782.2" y1="598.7" x2="1782.2" y2="635.2" stroke="#3380f4" stroke-width="2.4"/>
<circle cx="1796.4" cy="632.9" r="3.4" fill="#dce7ff"/>
<circle cx="1805.5" cy="637.8" r="3.4" fill="#dce7ff"/>
<circle cx="1814.1" cy="642.5" r="3.4" fill="#dce7ff"/>
<polygon points="1831.9,647.0 1854.0,658.8 1854.0,667.8 1831.9,656.0" fill="#86d3ff" />
<rect x="1892.0" y="660.2" width="4" height="14" rx="2" fill="#a3b6ff"/>
<rect x="1901.3" y="655.3" width="4" height="14" rx="2" fill="#a3b6ff"/>
<rect x="1910.5" y="650.3" width="4" height="14" rx="2" fill="#a3b6ff"/>
<rect x="1919.8" y="645.4" width="4" height="14" rx="2" fill="#a3b6ff"/>
<rect x="1929.1" y="640.5" width="4" height="14" rx="2" fill="#a3b6ff"/>
<rect x="1938.4" y="635.5" width="4" height="14" rx="2" fill="#a3b6ff"/>
<rect x="1947.7" y="630.6" width="4" height="14" rx="2" fill="#a3b6ff"/>
<rect x="1957.0" y="625.7" width="4" height="14" rx="2" fill="#a3b6ff"/>
<path d="M1781.0,551.1 Q1781.0,547.1 1784.5,549.0 L1875.2,597.7 Q1877.0,598.6 1878.8,597.7 L1970.5,549.0 Q1974.0,547.1 1974.0,551.1 L1974.0,589.7 Q1974.0,595.7 1968.7,598.5 L1884.1,643.4 Q1877.0,647.2 1870.0,643.4 L1786.3,598.5 Q1781.0,595.7 1781.0,589.7 Z" fill="#15397c" />
<path d="M1781.0,551.1 Q1781.0,547.1 1784.5,549.0 L1875.2,597.7 Q1877.0,598.6 1878.8,597.7 L1970.5,549.0 Q1974.0,547.1 1974.0,551.1 L1974.0,581.6 Q1974.0,591.6 1965.2,596.3 L1898.2,631.8 Q1877.0,643.1 1855.9,631.8 L1789.8,596.3 Q1781.0,591.6 1781.0,581.6 Z" fill="#2b66c8" />
<path d="M1786.8,566.2 Q1786.8,561.2 1791.2,563.6 L1853.4,596.9 Q1857.8,599.3 1857.8,604.3 L1857.8,626.8 Q1857.8,631.8 1853.4,629.4 L1791.2,596.1 Q1786.8,593.7 1786.8,588.7 Z" fill="#2455b0" />
<path d="M1884.8,610.5 Q1884.8,605.5 1889.2,603.1 L1963.8,563.5 Q1968.2,561.2 1968.2,566.2 L1968.2,588.7 Q1968.2,593.7 1963.8,596.0 L1889.2,635.6 Q1884.8,638.0 1884.8,633.0 Z" fill="#2455b0" />
<line x1="1782.2" y1="550.1" x2="1782.2" y2="586.6" stroke="#3380f4" stroke-width="2.4"/>
<circle cx="1796.4" cy="584.3" r="3.4" fill="#dce7ff"/>
<circle cx="1805.5" cy="589.2" r="3.4" fill="#dce7ff"/>
<circle cx="1814.1" cy="593.9" r="3.4" fill="#dce7ff"/>
<polygon points="1831.9,598.4 1854.0,610.2 1854.0,619.2 1831.9,607.4" fill="#86d3ff" />
<rect x="1892.0" y="611.6" width="4" height="14" rx="2" fill="#a3b6ff"/>
<rect x="1901.3" y="606.7" width="4" height="14" rx="2" fill="#a3b6ff"/>
<rect x="1910.5" y="601.7" width="4" height="14" rx="2" fill="#a3b6ff"/>
<rect x="1919.8" y="596.8" width="4" height="14" rx="2" fill="#a3b6ff"/>
<rect x="1929.1" y="591.9" width="4" height="14" rx="2" fill="#a3b6ff"/>
<rect x="1938.4" y="586.9" width="4" height="14" rx="2" fill="#a3b6ff"/>
<rect x="1947.7" y="582.0" width="4" height="14" rx="2" fill="#a3b6ff"/>
<rect x="1957.0" y="577.1" width="4" height="14" rx="2" fill="#a3b6ff"/>
<path d="M1781.0,502.5 Q1781.0,498.5 1784.5,500.4 L1875.2,549.1 Q1877.0,550.0 1878.8,549.1 L1970.5,500.4 Q1974.0,498.5 1974.0,502.5 L1974.0,541.1 Q1974.0,547.1 1968.7,549.9 L1884.1,594.8 Q1877.0,598.6 1870.0,594.8 L1786.3,549.9 Q1781.0,547.1 1781.0,541.1 Z" fill="#15397c" />
<path d="M1781.0,502.5 Q1781.0,498.5 1784.5,500.4 L1875.2,549.1 Q1877.0,550.0 1878.8,549.1 L1970.5,500.4 Q1974.0,498.5 1974.0,502.5 L1974.0,533.0 Q1974.0,543.0 1965.2,547.7 L1898.2,583.2 Q1877.0,594.5 1855.9,583.2 L1789.8,547.7 Q1781.0,543.0 1781.0,533.0 Z" fill="#2b66c8" />
<path d="M1786.8,517.6 Q1786.8,512.6 1791.2,515.0 L1853.4,548.3 Q1857.8,550.7 1857.8,555.7 L1857.8,578.2 Q1857.8,583.2 1853.4,580.8 L1791.2,547.5 Q1786.8,545.1 1786.8,540.1 Z" fill="#2455b0" />
<path d="M1884.8,561.9 Q1884.8,556.9 1889.2,554.5 L1963.8,514.9 Q1968.2,512.6 1968.2,517.6 L1968.2,540.1 Q1968.2,545.1 1963.8,547.4 L1889.2,587.0 Q1884.8,589.4 1884.8,584.4 Z" fill="#2455b0" />
<line x1="1782.2" y1="501.5" x2="1782.2" y2="538.0" stroke="#3380f4" stroke-width="2.4"/>
<circle cx="1796.4" cy="535.7" r="3.4" fill="#dce7ff"/>
<circle cx="1805.5" cy="540.6" r="3.4" fill="#dce7ff"/>
<circle cx="1814.1" cy="545.3" r="3.4" fill="#dce7ff"/>
<polygon points="1831.9,549.8 1854.0,561.6 1854.0,570.6 1831.9,558.8" fill="#86d3ff" />
<rect x="1892.0" y="563.0" width="4" height="14" rx="2" fill="#a3b6ff"/>
<rect x="1901.3" y="558.1" width="4" height="14" rx="2" fill="#a3b6ff"/>
<rect x="1910.5" y="553.1" width="4" height="14" rx="2" fill="#a3b6ff"/>
<rect x="1919.8" y="548.2" width="4" height="14" rx="2" fill="#a3b6ff"/>
<rect x="1929.1" y="543.3" width="4" height="14" rx="2" fill="#a3b6ff"/>
<rect x="1938.4" y="538.3" width="4" height="14" rx="2" fill="#a3b6ff"/>
<rect x="1947.7" y="533.4" width="4" height="14" rx="2" fill="#a3b6ff"/>
<rect x="1957.0" y="528.5" width="4" height="14" rx="2" fill="#a3b6ff"/>
<path d="M1864.7,453.6 Q1877.0,447.0 1889.4,453.6 L1968.7,495.7 Q1974.0,498.5 1968.7,501.3 L1889.4,543.4 Q1877.0,550.0 1864.7,543.4 L1786.3,501.3 Q1781.0,498.5 1786.3,495.7 Z" fill="#2b66c8" />
<path d="M1868.3,470.0 Q1877.0,465.0 1885.6,470.2 L1931.2,497.9 Q1938.0,502.0 1931.1,506.0 L1885.6,532.5 Q1877.0,537.5 1868.3,532.5 L1820.9,505.0 Q1814.0,501.0 1820.9,497.0 Z" fill="#2453ac" />
<polygon points="1515.5,661.0 1592.0,705.0 1592.0,898.0 1515.5,854.0" fill="#2658c8" />
<polygon points="1592.0,705.0 1676.5,656.0 1676.5,849.0 1592.0,898.0" fill="#123874" />
<polygon points="1515.5,661.0 1530.8,669.8 1530.8,862.8 1515.5,854.0" fill="#3478ee" />
<polygon points="1520.9,672.1 1529.3,676.9 1529.3,853.9 1520.9,849.1" fill="#3a74e0" />
<polygon points="1530.8,675.8 1584.3,706.6 1584.3,887.6 1530.8,856.8" fill="#2a5fd8" />
<polygon points="1584.3,700.6 1592.0,705.0 1592.0,898.0 1584.3,893.6" fill="#2250b8" />
<polygon points="1588.2,702.8 1592.0,705.0 1592.0,898.0 1588.2,895.8" fill="#1a3f8f" />
<polygon points="1533.9,701.6 1582.8,729.7 1582.8,736.7 1533.9,708.6" fill="#1c48a6" />
<rect x="1537.9" y="688.5" width="5.6" height="17" rx="2.6" fill="#6a8cff"/>
<rect x="1545.1" y="692.7" width="5.6" height="17" rx="2.6" fill="#6a8cff"/>
<rect x="1552.3" y="696.8" width="5.6" height="17" rx="2.6" fill="#6a8cff"/>
<rect x="1559.5" y="700.9" width="5.6" height="17" rx="2.6" fill="#6a8cff"/>
<rect x="1566.7" y="705.1" width="5.6" height="17" rx="2.6" fill="#6a8cff"/>
<rect x="1573.9" y="709.2" width="5.6" height="17" rx="2.6" fill="#6a8cff"/>
<polygon points="1533.9,729.0 1582.8,757.1 1582.8,764.1 1533.9,736.0" fill="#1c48a6" />
<rect x="1537.9" y="715.9" width="5.6" height="17" rx="2.6" fill="#6a8cff"/>
<rect x="1545.1" y="720.1" width="5.6" height="17" rx="2.6" fill="#6a8cff"/>
<rect x="1552.3" y="724.2" width="5.6" height="17" rx="2.6" fill="#6a8cff"/>
<rect x="1559.5" y="728.3" width="5.6" height="17" rx="2.6" fill="#6a8cff"/>
<rect x="1566.7" y="732.5" width="5.6" height="17" rx="2.6" fill="#6a8cff"/>
<rect x="1573.9" y="736.6" width="5.6" height="17" rx="2.6" fill="#6a8cff"/>
<polygon points="1533.9,756.4 1582.8,784.5 1582.8,791.5 1533.9,763.4" fill="#1c48a6" />
<rect x="1537.9" y="743.3" width="5.6" height="17" rx="2.6" fill="#6a8cff"/>
<rect x="1545.1" y="747.5" width="5.6" height="17" rx="2.6" fill="#6a8cff"/>
<rect x="1552.3" y="751.6" width="5.6" height="17" rx="2.6" fill="#6a8cff"/>
<rect x="1559.5" y="755.7" width="5.6" height="17" rx="2.6" fill="#6a8cff"/>
<rect x="1566.7" y="759.9" width="5.6" height="17" rx="2.6" fill="#6a8cff"/>
<rect x="1573.9" y="764.0" width="5.6" height="17" rx="2.6" fill="#6a8cff"/>
<polygon points="1533.9,783.8 1582.8,811.9 1582.8,818.9 1533.9,790.8" fill="#1c48a6" />
<rect x="1537.9" y="770.7" width="5.6" height="17" rx="2.6" fill="#6a8cff"/>
<rect x="1545.1" y="774.9" width="5.6" height="17" rx="2.6" fill="#6a8cff"/>
<rect x="1552.3" y="779.0" width="5.6" height="17" rx="2.6" fill="#6a8cff"/>
<rect x="1559.5" y="783.1" width="5.6" height="17" rx="2.6" fill="#6a8cff"/>
<rect x="1566.7" y="787.3" width="5.6" height="17" rx="2.6" fill="#6a8cff"/>
<rect x="1573.9" y="791.4" width="5.6" height="17" rx="2.6" fill="#6a8cff"/>
<polygon points="1533.9,811.2 1582.8,839.3 1582.8,846.3 1533.9,818.2" fill="#1c48a6" />
<rect x="1537.9" y="798.1" width="5.6" height="17" rx="2.6" fill="#6a8cff"/>
<rect x="1545.1" y="802.3" width="5.6" height="17" rx="2.6" fill="#6a8cff"/>
<rect x="1552.3" y="806.4" width="5.6" height="17" rx="2.6" fill="#6a8cff"/>
<rect x="1559.5" y="810.5" width="5.6" height="17" rx="2.6" fill="#6a8cff"/>
<rect x="1566.7" y="814.7" width="5.6" height="17" rx="2.6" fill="#6a8cff"/>
<rect x="1573.9" y="818.8" width="5.6" height="17" rx="2.6" fill="#6a8cff"/>
<polygon points="1533.9,838.6 1582.8,866.7 1582.8,873.7 1533.9,845.6" fill="#1c48a6" />
<rect x="1537.9" y="825.5" width="5.6" height="17" rx="2.6" fill="#6a8cff"/>
<rect x="1545.1" y="829.7" width="5.6" height="17" rx="2.6" fill="#6a8cff"/>
<rect x="1552.3" y="833.8" width="5.6" height="17" rx="2.6" fill="#6a8cff"/>
<rect x="1559.5" y="837.9" width="5.6" height="17" rx="2.6" fill="#6a8cff"/>
<rect x="1566.7" y="842.1" width="5.6" height="17" rx="2.6" fill="#6a8cff"/>
<rect x="1573.9" y="846.2" width="5.6" height="17" rx="2.6" fill="#6a8cff"/>
<polygon points="1515.5,661.0 1598.0,701.5 1598.0,708.0 1515.5,667.0" fill="#1a3f8f" />
<polygon points="1600.0,612.0 1676.5,656.0 1598.0,701.5 1515.5,661.0" fill="#2c66cc" />
<polyline points="1515.5,661.0 1600.0,612.0 1676.5,656.0" fill="none" stroke="#3583f6" stroke-width="2" stroke-linejoin="round" opacity="0.8"/>
<path d="M1585.3,790.8 q-5,1 -5,9 q0,8 5,9" fill="none" stroke="#e3e9ff" stroke-width="3.2"/>
<polygon points="1661.3,677.8 1674.0,670.5 1674.0,687.5 1661.3,694.8" fill="#1d4aa6" />
<polygon points="1661.3,702.8 1674.0,695.5 1674.0,712.5 1661.3,719.8" fill="#1d4aa6" />
<polygon points="1661.3,727.8 1674.0,720.5 1674.0,737.5 1661.3,744.8" fill="#1d4aa6" />
<polygon points="1661.3,752.8 1674.0,745.5 1674.0,762.5 1661.3,769.8" fill="#1d4aa6" />
<polygon points="1661.3,777.8 1674.0,770.5 1674.0,787.5 1661.3,794.8" fill="#1d4aa6" />
<polygon points="1661.3,802.8 1674.0,795.5 1674.0,812.5 1661.3,819.8" fill="#1d4aa6" />
<polygon points="1661.3,827.8 1674.0,820.5 1674.0,837.5 1661.3,844.8" fill="#1d4aa6" />
<line x1="1517.0" y1="661" x2="1517.0" y2="854" stroke="#3a86ff" stroke-width="3"/>
<polygon points="706.0,528.0 763.0,560.0 763.0,687.0 706.0,655.0" fill="url(#twL)" />
<polygon points="763.0,560.0 837.0,517.5 837.0,644.5 763.0,687.0" fill="#12397a" />
<polygon points="780.5,486.0 837.0,517.5 763.0,560.0 706.0,528.0" fill="url(#twT)" />
<polyline points="706.0,528.0 780.5,486.0 837.0,517.5" fill="none" stroke="#3a88ff" stroke-width="2" stroke-linejoin="round" opacity="0.9"/>
<line x1="708.0" y1="528.0" x2="708.0" y2="655.0" stroke="#3d8aff" stroke-width="4"/>
<polygon points="748.6,568.0 754.6,569.6 754.6,575.9 748.6,574.3" fill="#d6e2ff" />
<polygon points="748.6,576.9 754.6,578.5 754.6,585.7 748.6,584.1" fill="#d6e2ff" />
<polygon points="748.6,590.3 754.6,591.9 754.6,599.9 748.6,598.3" fill="#d6e2ff" />
<polygon points="748.6,599.3 754.6,600.9 754.6,608.9 748.6,607.3" fill="#d6e2ff" />
<line x1="710.6" y1="597.6" x2="757.3" y2="623.8" stroke="#d6e2ff" stroke-width="2.5"/>
<line x1="718.5" y1="602.0" x2="747.0" y2="618.0" stroke="#d6e2ff" stroke-width="8"/>
<line x1="710.6" y1="616.6" x2="757.3" y2="642.8" stroke="#d6e2ff" stroke-width="2.5"/>
<line x1="718.5" y1="621.0" x2="747.0" y2="637.0" stroke="#d6e2ff" stroke-width="8"/>
<line x1="710.6" y1="635.6" x2="757.3" y2="661.8" stroke="#d6e2ff" stroke-width="2.5"/>
<line x1="718.5" y1="640.0" x2="747.0" y2="656.0" stroke="#d6e2ff" stroke-width="8"/>
<polygon points="799.3,612.2 828.9,595.2 828.9,599.6 799.3,616.6" fill="#2c60cc" />
<polygon points="799.3,619.9 828.9,602.9 828.9,607.3 799.3,624.3" fill="#2c60cc" />
<polygon points="799.3,627.6 828.9,610.6 828.9,615.0 799.3,632.0" fill="#2c60cc" />
<polygon points="799.3,635.3 828.9,618.3 828.9,622.7 799.3,639.7" fill="#2c60cc" />
<polygon points="799.3,643.0 828.9,626.0 828.9,630.4 799.3,647.4" fill="#2c60cc" />
<polygon points="799.3,650.7 828.9,633.7 828.9,638.1 799.3,655.1" fill="#2c60cc" />
<polygon points="863.0,624.3 920.0,656.3 920.0,783.3 863.0,751.3" fill="url(#twL)" />
<polygon points="920.0,656.3 994.0,613.8 994.0,740.8 920.0,783.3" fill="#12397a" />
<polygon points="937.5,582.3 994.0,613.8 920.0,656.3 863.0,624.3" fill="url(#twT)" />
<polyline points="863.0,624.3 937.5,582.3 994.0,613.8" fill="none" stroke="#3a88ff" stroke-width="2" stroke-linejoin="round" opacity="0.9"/>
<line x1="865.0" y1="624.3" x2="865.0" y2="751.3" stroke="#3d8aff" stroke-width="4"/>
<polygon points="905.6,664.3 911.6,665.9 911.6,672.2 905.6,670.6" fill="#d6e2ff" />
<polygon points="905.6,673.2 911.6,674.8 911.6,682.0 905.6,680.4" fill="#d6e2ff" />
<polygon points="905.6,686.6 911.6,688.2 911.6,696.2 905.6,694.6" fill="#d6e2ff" />
<polygon points="905.6,695.6 911.6,697.2 911.6,705.2 905.6,703.6" fill="#d6e2ff" />
<line x1="867.6" y1="693.9" x2="914.3" y2="720.1" stroke="#d6e2ff" stroke-width="2.5"/>
<line x1="875.5" y1="698.3" x2="904.0" y2="714.3" stroke="#d6e2ff" stroke-width="8"/>
<line x1="867.6" y1="712.9" x2="914.3" y2="739.1" stroke="#d6e2ff" stroke-width="2.5"/>
<line x1="875.5" y1="717.3" x2="904.0" y2="733.3" stroke="#d6e2ff" stroke-width="8"/>
<line x1="867.6" y1="731.9" x2="914.3" y2="758.1" stroke="#d6e2ff" stroke-width="2.5"/>
<line x1="875.5" y1="736.3" x2="904.0" y2="752.3" stroke="#d6e2ff" stroke-width="8"/>
<polygon points="956.3,708.5 985.9,691.5 985.9,695.9 956.3,712.9" fill="#2c60cc" />
<polygon points="956.3,716.2 985.9,699.2 985.9,703.6 956.3,720.6" fill="#2c60cc" />
<polygon points="956.3,723.9 985.9,706.9 985.9,711.3 956.3,728.3" fill="#2c60cc" />
<polygon points="956.3,731.6 985.9,714.6 985.9,719.0 956.3,736.0" fill="#2c60cc" />
<polygon points="956.3,739.3 985.9,722.3 985.9,726.7 956.3,743.7" fill="#2c60cc" />
<polygon points="956.3,747.0 985.9,730.0 985.9,734.4 956.3,751.4" fill="#2c60cc" />
<polygon points="1020.0,720.6 1077.0,752.6 1077.0,879.6 1020.0,847.6" fill="url(#twL)" />
<polygon points="1077.0,752.6 1151.0,710.1 1151.0,837.1 1077.0,879.6" fill="#12397a" />
<polygon points="1094.5,678.6 1151.0,710.1 1077.0,752.6 1020.0,720.6" fill="url(#twT)" />
<polyline points="1020.0,720.6 1094.5,678.6 1151.0,710.1" fill="none" stroke="#3a88ff" stroke-width="2" stroke-linejoin="round" opacity="0.9"/>
<line x1="1022.0" y1="720.6" x2="1022.0" y2="847.6" stroke="#3d8aff" stroke-width="4"/>
<polygon points="1062.6,760.6 1068.6,762.2 1068.6,768.5 1062.6,766.9" fill="#d6e2ff" />
<polygon points="1062.6,769.5 1068.6,771.1 1068.6,778.3 1062.6,776.7" fill="#d6e2ff" />
<polygon points="1062.6,782.9 1068.6,784.5 1068.6,792.5 1062.6,790.9" fill="#d6e2ff" />
<polygon points="1062.6,791.9 1068.6,793.5 1068.6,801.5 1062.6,799.9" fill="#d6e2ff" />
<line x1="1024.6" y1="790.2" x2="1071.3" y2="816.4" stroke="#d6e2ff" stroke-width="2.5"/>
<line x1="1032.5" y1="794.6" x2="1061.0" y2="810.6" stroke="#d6e2ff" stroke-width="8"/>
<line x1="1024.6" y1="809.2" x2="1071.3" y2="835.4" stroke="#d6e2ff" stroke-width="2.5"/>
<line x1="1032.5" y1="813.6" x2="1061.0" y2="829.6" stroke="#d6e2ff" stroke-width="8"/>
<line x1="1024.6" y1="828.2" x2="1071.3" y2="854.4" stroke="#d6e2ff" stroke-width="2.5"/>
<line x1="1032.5" y1="832.6" x2="1061.0" y2="848.6" stroke="#d6e2ff" stroke-width="8"/>
<polygon points="1113.3,804.8 1142.9,787.8 1142.9,792.2 1113.3,809.2" fill="#2c60cc" />
<polygon points="1113.3,812.5 1142.9,795.5 1142.9,799.9 1113.3,816.9" fill="#2c60cc" />
<polygon points="1113.3,820.2 1142.9,803.2 1142.9,807.6 1113.3,824.6" fill="#2c60cc" />
<polygon points="1113.3,827.9 1142.9,810.9 1142.9,815.3 1113.3,832.3" fill="#2c60cc" />
<polygon points="1113.3,835.6 1142.9,818.6 1142.9,823.0 1113.3,840.0" fill="#2c60cc" />
<polygon points="1113.3,843.3 1142.9,826.3 1142.9,830.7 1113.3,847.7" fill="#2c60cc" />
<polygon points="1177.0,816.9 1234.0,848.9 1234.0,975.9 1177.0,943.9" fill="url(#twL)" />
<polygon points="1234.0,848.9 1308.0,806.4 1308.0,933.4 1234.0,975.9" fill="#12397a" />
<polygon points="1251.5,774.9 1308.0,806.4 1234.0,848.9 1177.0,816.9" fill="url(#twT)" />
<polyline points="1177.0,816.9 1251.5,774.9 1308.0,806.4" fill="none" stroke="#3a88ff" stroke-width="2" stroke-linejoin="round" opacity="0.9"/>
<line x1="1179.0" y1="816.9" x2="1179.0" y2="943.9" stroke="#3d8aff" stroke-width="4"/>
<polygon points="1219.6,856.9 1225.6,858.5 1225.6,864.8 1219.6,863.2" fill="#d6e2ff" />
<polygon points="1219.6,865.8 1225.6,867.4 1225.6,874.6 1219.6,873.0" fill="#d6e2ff" />
<polygon points="1219.6,879.2 1225.6,880.8 1225.6,888.8 1219.6,887.2" fill="#d6e2ff" />
<polygon points="1219.6,888.2 1225.6,889.8 1225.6,897.8 1219.6,896.2" fill="#d6e2ff" />
<line x1="1181.6" y1="886.5" x2="1228.3" y2="912.7" stroke="#d6e2ff" stroke-width="2.5"/>
<line x1="1189.5" y1="890.9" x2="1218.0" y2="906.9" stroke="#d6e2ff" stroke-width="8"/>
<line x1="1181.6" y1="905.5" x2="1228.3" y2="931.7" stroke="#d6e2ff" stroke-width="2.5"/>
<line x1="1189.5" y1="909.9" x2="1218.0" y2="925.9" stroke="#d6e2ff" stroke-width="8"/>
<line x1="1181.6" y1="924.5" x2="1228.3" y2="950.7" stroke="#d6e2ff" stroke-width="2.5"/>
<line x1="1189.5" y1="928.9" x2="1218.0" y2="944.9" stroke="#d6e2ff" stroke-width="8"/>
<polygon points="1270.3,901.1 1299.9,884.1 1299.9,888.5 1270.3,905.5" fill="#2c60cc" />
<polygon points="1270.3,908.8 1299.9,891.8 1299.9,896.2 1270.3,913.2" fill="#2c60cc" />
<polygon points="1270.3,916.5 1299.9,899.5 1299.9,903.9 1270.3,920.9" fill="#2c60cc" />
<polygon points="1270.3,924.2 1299.9,907.2 1299.9,911.6 1270.3,928.6" fill="#2c60cc" />
<polygon points="1270.3,931.9 1299.9,914.9 1299.9,919.3 1270.3,936.3" fill="#2c60cc" />
<polygon points="1270.3,939.6 1299.9,922.6 1299.9,927.0 1270.3,944.0" fill="#2c60cc" />
<polygon points="1334.0,913.2 1391.0,945.2 1391.0,1072.2 1334.0,1040.2" fill="url(#twL)" />
<polygon points="1391.0,945.2 1465.0,902.7 1465.0,1029.7 1391.0,1072.2" fill="#12397a" />
<polygon points="1408.5,871.2 1465.0,902.7 1391.0,945.2 1334.0,913.2" fill="url(#twT)" />
<polyline points="1334.0,913.2 1408.5,871.2 1465.0,902.7" fill="none" stroke="#3a88ff" stroke-width="2" stroke-linejoin="round" opacity="0.9"/>
<line x1="1336.0" y1="913.2" x2="1336.0" y2="1040.2" stroke="#3d8aff" stroke-width="4"/>
<polygon points="1376.6,953.2 1382.6,954.8 1382.6,961.1 1376.6,959.5" fill="#d6e2ff" />
<polygon points="1376.6,962.1 1382.6,963.7 1382.6,970.9 1376.6,969.3" fill="#d6e2ff" />
<polygon points="1376.6,975.5 1382.6,977.1 1382.6,985.1 1376.6,983.5" fill="#d6e2ff" />
<polygon points="1376.6,984.5 1382.6,986.1 1382.6,994.1 1376.6,992.5" fill="#d6e2ff" />
<line x1="1338.6" y1="982.8" x2="1385.3" y2="1009.0" stroke="#d6e2ff" stroke-width="2.5"/>
<line x1="1346.5" y1="987.2" x2="1375.0" y2="1003.2" stroke="#d6e2ff" stroke-width="8"/>
<line x1="1338.6" y1="1001.8" x2="1385.3" y2="1028.0" stroke="#d6e2ff" stroke-width="2.5"/>
<line x1="1346.5" y1="1006.2" x2="1375.0" y2="1022.2" stroke="#d6e2ff" stroke-width="8"/>
<line x1="1338.6" y1="1020.8" x2="1385.3" y2="1047.0" stroke="#d6e2ff" stroke-width="2.5"/>
<line x1="1346.5" y1="1025.2" x2="1375.0" y2="1041.2" stroke="#d6e2ff" stroke-width="8"/>
<polygon points="1427.3,997.4 1456.9,980.4 1456.9,984.8 1427.3,1001.8" fill="#2c60cc" />
<polygon points="1427.3,1005.1 1456.9,988.1 1456.9,992.5 1427.3,1009.5" fill="#2c60cc" />
<polygon points="1427.3,1012.8 1456.9,995.8 1456.9,1000.2 1427.3,1017.2" fill="#2c60cc" />
<polygon points="1427.3,1020.5 1456.9,1003.5 1456.9,1007.9 1427.3,1024.9" fill="#2c60cc" />
<polygon points="1427.3,1028.2 1456.9,1011.2 1456.9,1015.6 1427.3,1032.6" fill="#2c60cc" />
<polygon points="1427.3,1035.9 1456.9,1018.9 1456.9,1023.3 1427.3,1040.3" fill="#2c60cc" />
<polygon points="441.0,917.0 663.0,1044.0 663.0,1180.0 441.0,1054.0" fill="#5b87f7" />
<polygon points="441.0,917.0 447.0,920.4 447.0,1057.4 441.0,1054.0" fill="#6b9bff" />
<polygon points="663.0,1044.0 685.0,1031.0 685.0,1165.0 663.0,1180.0" fill="#4a74ec" />
<line x1="441" y1="938.5" x2="663" y2="1065.5" stroke="#eef4ff" stroke-width="3.6"/>
<line x1="663" y1="1065.5" x2="685" y2="1052.5" stroke="#eef4ff" stroke-width="3.6"/>
<line x1="441" y1="963" x2="663" y2="1090.0" stroke="#eef4ff" stroke-width="3.6"/>
<line x1="663" y1="1090.0" x2="685" y2="1077.0" stroke="#eef4ff" stroke-width="3.6"/>
<line x1="441" y1="987.5" x2="663" y2="1114.5" stroke="#eef4ff" stroke-width="3.6"/>
<line x1="663" y1="1114.5" x2="685" y2="1101.5" stroke="#eef4ff" stroke-width="3.6"/>
<line x1="441" y1="1012" x2="663" y2="1139.0" stroke="#eef4ff" stroke-width="3.6"/>
<line x1="663" y1="1139.0" x2="685" y2="1126.0" stroke="#eef4ff" stroke-width="3.6"/>
<line x1="441" y1="1036.5" x2="663" y2="1163.5" stroke="#eef4ff" stroke-width="3.6"/>
<line x1="663" y1="1163.5" x2="685" y2="1150.5" stroke="#eef4ff" stroke-width="3.6"/>
<line x1="483.3" y1="941.2" x2="483.3" y2="962.7" stroke="#eef4ff" stroke-width="3.8"/>
<line x1="529.9" y1="967.9" x2="529.9" y2="989.4" stroke="#eef4ff" stroke-width="3.8"/>
<line x1="576.5" y1="994.5" x2="576.5" y2="1016.0" stroke="#eef4ff" stroke-width="3.8"/>
<line x1="623.1" y1="1021.2" x2="623.1" y2="1042.7" stroke="#eef4ff" stroke-width="3.8"/>
<line x1="460.0" y1="949.4" x2="460.0" y2="973.9" stroke="#eef4ff" stroke-width="3.8"/>
<line x1="506.6" y1="976.0" x2="506.6" y2="1000.5" stroke="#eef4ff" stroke-width="3.8"/>
<line x1="553.2" y1="1002.7" x2="553.2" y2="1027.2" stroke="#eef4ff" stroke-width="3.8"/>
<line x1="599.8" y1="1029.3" x2="599.8" y2="1053.8" stroke="#eef4ff" stroke-width="3.8"/>
<line x1="646.4" y1="1056.0" x2="646.4" y2="1080.5" stroke="#eef4ff" stroke-width="3.8"/>
<line x1="483.3" y1="987.2" x2="483.3" y2="1011.7" stroke="#eef4ff" stroke-width="3.8"/>
<line x1="529.9" y1="1013.9" x2="529.9" y2="1038.4" stroke="#eef4ff" stroke-width="3.8"/>
<line x1="576.5" y1="1040.5" x2="576.5" y2="1065.0" stroke="#eef4ff" stroke-width="3.8"/>
<line x1="623.1" y1="1067.2" x2="623.1" y2="1091.7" stroke="#eef4ff" stroke-width="3.8"/>
<line x1="460.0" y1="998.4" x2="460.0" y2="1022.9" stroke="#eef4ff" stroke-width="3.8"/>
<line x1="506.6" y1="1025.0" x2="506.6" y2="1049.5" stroke="#eef4ff" stroke-width="3.8"/>
<line x1="553.2" y1="1051.7" x2="553.2" y2="1076.2" stroke="#eef4ff" stroke-width="3.8"/>
<line x1="599.8" y1="1078.3" x2="599.8" y2="1102.8" stroke="#eef4ff" stroke-width="3.8"/>
<line x1="646.4" y1="1105.0" x2="646.4" y2="1129.5" stroke="#eef4ff" stroke-width="3.8"/>
<line x1="483.3" y1="1036.2" x2="483.3" y2="1060.7" stroke="#eef4ff" stroke-width="3.8"/>
<line x1="529.9" y1="1062.9" x2="529.9" y2="1087.4" stroke="#eef4ff" stroke-width="3.8"/>
<line x1="576.5" y1="1089.5" x2="576.5" y2="1114.0" stroke="#eef4ff" stroke-width="3.8"/>
<line x1="623.1" y1="1116.2" x2="623.1" y2="1140.7" stroke="#eef4ff" stroke-width="3.8"/>
<line x1="460.0" y1="1047.4" x2="460.0" y2="1064.9" stroke="#eef4ff" stroke-width="3.8"/>
<line x1="506.6" y1="1074.0" x2="506.6" y2="1091.5" stroke="#eef4ff" stroke-width="3.8"/>
<line x1="553.2" y1="1100.7" x2="553.2" y2="1118.2" stroke="#eef4ff" stroke-width="3.8"/>
<line x1="599.8" y1="1127.3" x2="599.8" y2="1144.8" stroke="#eef4ff" stroke-width="3.8"/>
<line x1="646.4" y1="1154.0" x2="646.4" y2="1171.5" stroke="#eef4ff" stroke-width="3.8"/>
<path d="M441.3,916.8 C442.0,914.7 443.8,910.5 445.8,904.2 C447.7,898.0 450.8,885.7 452.9,879.1 C455.0,872.6 456.4,868.5 458.3,864.8 C460.2,861.1 463.5,858.1 464.6,856.7 L464.6,856.7 C464.4,859.6 463.1,868.8 463.7,873.8 C464.3,878.7 466.1,883.0 468.2,886.3 C470.2,889.6 473.8,892.1 476.2,893.5 C478.6,894.8 480.1,895.0 482.5,894.4 C484.9,893.8 488.6,892.4 490.6,889.9 C492.5,887.4 493.8,883.0 494.1,879.1 C494.4,875.3 493.2,872.0 492.3,866.6 C491.5,861.2 488.6,852.7 488.8,846.9 C488.9,841.1 492.5,834.2 493.2,831.6 L493.2,831.6 C494.3,834.2 496.7,842.3 499.5,846.9 C502.4,851.5 507.7,855.8 510.3,859.4 C512.8,863.0 514.0,866.9 514.7,868.4 L514.7,868.4 C516.4,865.4 522.4,853.9 524.6,850.5 C526.8,847.0 527.6,848.2 528.2,847.8 L528.2,847.8 C529.7,849.7 535.1,854.2 537.2,859.4 C539.2,864.7 539.8,872.6 540.7,879.1 C541.6,885.7 541.0,892.6 542.5,898.9 C544.0,905.1 546.7,912.0 549.7,916.8 C552.7,921.6 558.7,925.7 560.4,927.5 L560.4,927.5 C560.9,924.5 561.6,915.0 563.1,909.6 C564.6,904.2 566.4,899.3 569.4,895.3 C572.4,891.2 579.1,887.1 581.1,885.4 L581.1,885.4 C580.3,887.1 577.3,891.2 576.6,895.3 C575.8,899.3 575.4,905.4 576.6,909.6 C577.8,913.8 581.1,916.8 583.7,920.4 C586.4,923.9 591.2,929.3 592.7,931.1 L592.7,931.1 C593.3,928.7 594.5,921.9 596.3,916.8 C598.1,911.7 601.5,907.5 603.5,900.6 C605.4,893.8 607.2,879.7 607.9,875.6 L607.9,875.6 C610.2,877.0 617.9,880.9 621.4,884.5 C624.8,888.1 626.5,890.5 628.5,897.1 C630.6,903.6 632.4,915.9 633.9,923.9 C635.4,932.0 635.7,939.2 637.5,945.4 C639.3,951.7 643.5,958.9 644.7,961.6 L644.7,961.6 C645.6,958.9 648.6,949.3 650.1,945.4 C651.5,941.6 653.0,939.5 653.6,938.3 L653.6,938.3 C655.7,940.1 662.6,944.9 666.2,949.0 C669.8,953.2 672.8,956.5 675.1,963.4 C677.5,970.2 679.0,981.6 680.5,990.3 C682.0,998.9 683.2,1008.5 684.1,1015.3 C685.0,1022.2 685.6,1028.8 685.9,1031.5 L663,1044 Z" fill="#eef3ff"/>
<path d="M464.6,856.7 C464.4,859.6 463.1,868.8 463.7,873.8 C464.3,878.7 466.1,883.0 468.2,886.3 C470.2,889.6 473.8,892.1 476.2,893.5 C478.6,894.8 482.2,893.5 482.5,894.4 C482.8,895.3 480.8,898.7 478.0,898.9 C475.2,899.0 469.1,898.6 465.5,895.3 C461.9,892.0 457.7,884.2 456.5,879.1 C455.3,874.1 458.0,867.2 458.3,864.8 Z" fill="#d9f3ff" opacity="0.8"/>
<path d="M493.2,831.6 C492.5,834.2 488.9,841.1 488.8,846.9 C488.6,852.7 491.5,861.2 492.3,866.6 C493.2,872.0 492.3,878.2 494.1,879.1 C495.9,880.0 500.4,875.0 503.1,872.0 C505.8,869.0 510.9,865.4 510.3,861.2 C509.7,857.0 501.3,849.3 499.5,846.9 Z" fill="#d9f3ff" opacity="0.8"/>
<path d="M581.1,885.4 C580.3,887.1 577.3,891.2 576.6,895.3 C575.8,899.3 575.4,905.4 576.6,909.6 C577.8,913.8 581.1,916.8 583.7,920.4 C586.4,923.9 591.8,928.4 592.7,931.1 C593.6,933.8 592.4,937.1 589.1,936.5 C585.8,935.9 576.9,931.4 573.0,927.5 C569.1,923.6 566.4,918.6 565.8,913.2 C565.2,907.8 568.8,898.3 569.4,895.3 Z" fill="#d9f3ff" opacity="0.8"/>
<path d="M607.9,875.6 C607.2,879.7 605.4,893.8 603.5,900.6 C601.5,907.5 597.8,911.7 596.3,916.8 C594.8,921.9 592.1,931.7 594.5,931.1 C596.9,930.5 606.7,919.8 610.6,913.2 C614.5,906.6 616.6,895.3 617.8,891.7 Z" fill="#d9f3ff" opacity="0.8"/>
<path d="M653.6,938.3 C653.0,939.5 651.5,941.6 650.1,945.4 C648.6,949.3 643.8,959.8 644.7,961.6 C645.6,963.4 652.4,958.9 655.4,956.2 C658.4,953.5 661.4,947.2 662.6,945.4 Z" fill="#d9f3ff" opacity="0.8"/>
<path d="M528.2,847.8 C529.7,849.7 535.1,854.2 537.2,859.4 C539.2,864.7 539.8,872.6 540.7,879.1 C541.6,885.7 541.0,892.6 542.5,898.9 C544.0,905.1 546.7,912.0 549.7,916.8 C552.7,921.6 560.4,925.1 560.4,927.5 C560.4,929.9 553.9,932.3 549.7,931.1 C545.5,929.9 538.6,925.4 535.4,920.4 C532.1,915.3 530.9,908.4 530.0,900.6 C529.1,892.9 530.0,878.2 530.0,873.8 Z" fill="#d3def6" opacity="0.85"/>
<path d="M607.9,875.6 C610.2,877.0 617.9,880.9 621.4,884.5 C624.8,888.1 626.5,890.5 628.5,897.1 C630.6,903.6 632.4,915.9 633.9,923.9 C635.4,932.0 635.7,939.2 637.5,945.4 C639.3,951.7 645.3,958.0 644.7,961.6 C644.1,965.2 637.8,969.0 633.9,967.0 C630.0,964.9 623.8,956.8 621.4,949.0 C619.0,941.3 620.2,929.9 619.6,920.4 C619.0,910.8 618.1,896.5 617.8,891.7 Z" fill="#d3def6" opacity="0.85"/>
<path d="M653.6,938.3 C655.7,940.1 662.6,944.9 666.2,949.0 C669.8,953.2 672.8,956.5 675.1,963.4 C677.5,970.2 679.0,981.6 680.5,990.3 C682.0,998.9 683.2,1008.5 684.1,1015.3 C685.0,1022.2 689.5,1026.7 685.9,1031.5 C682.3,1036.2 667.7,1046.4 662.6,1044.0 C657.5,1041.6 656.3,1027.6 655.4,1017.1 C654.5,1006.7 656.0,990.8 657.2,981.3 C658.4,971.7 661.7,963.4 662.6,959.8 Z" fill="#d3def6" opacity="0.85"/>
<path d="M670.6,818.0 Q671.0,814.0 675.0,814.0 L805.0,813.0 Q809.0,813.0 809.3,817.0 L815.5,906.0 Q816.0,913.0 809.0,912.9 L668.0,911.1 Q661.0,911.0 661.7,904.0 Z" fill="#f1f3f6" stroke="#8fbcff" stroke-width="1.2"/>
<ellipse cx="764.0" cy="856.0" rx="42" ry="24" fill="url(#rtShade)"/>
<path d="M664.6,886.0 Q664.6,886.0 664.6,886.0 L813.1,886.0 Q813.1,886.0 813.1,886.0 L814.6,906.0 Q815.0,912.0 809.0,911.9 L668.0,910.1 Q662.0,910.0 662.6,904.0 Z" fill="url(#rtFront)" />
<polygon points="663.4,907.0 813.6,907.0 811.0,912.0 666.0,910.0" fill="#c9ced6" />
<polygon points="671.8,816.0 711.0,816.0 711.0,827.0 670.7,827.0" fill="#dde8f8" />
<polygon points="670.7,827.0 711.0,827.0 711.0,886.0 664.6,886.0" fill="#c7d3e6" />
<polygon points="667.9,854.0 711.0,854.0 711.0,886.0 664.6,886.0" fill="#8893a3" />
<path d="M677.8,830.0 Q678.0,827.0 681.0,827.0 L711.0,827.0 Q711.0,827.0 711.0,827.0 L711.0,875.0 Q711.0,875.0 711.0,875.0 L678.0,875.0 Q675.0,875.0 675.2,872.0 Z" fill="#4dd0f7" />
<polygon points="667.7,875.0 711.0,875.0 711.0,886.0 665.6,886.0" fill="#5b6676" />
<polygon points="664.6,886.0 711.0,886.0 711.0,910.0 664.1,910.0" fill="#7f8a9a" />
<polygon points="663.9,902.0 711.0,902.0 711.0,910.0 665.1,910.0" fill="#5d6776" />
<rect x="698.0" y="894.0" width="15" height="10" rx="5" fill="#2f8cff"/>
<rect x="712.0" y="894.0" width="13" height="10" rx="4" fill="#3b4350"/>
<rect x="736.0" y="892.0" width="2.2" height="4.5" fill="#7d848f"/>
<rect x="741.5" y="892.0" width="2.2" height="4.5" fill="#7d848f"/>
<rect x="747.0" y="892.0" width="2.2" height="4.5" fill="#7d848f"/>
<rect x="752.5" y="892.0" width="2.2" height="4.5" fill="#7d848f"/>
<rect x="758.0" y="892.0" width="2.2" height="4.5" fill="#7d848f"/>
<rect x="763.5" y="892.0" width="2.2" height="4.5" fill="#7d848f"/>
<rect x="769.0" y="892.0" width="2.2" height="4.5" fill="#7d848f"/>
<rect x="774.5" y="892.0" width="2.2" height="4.5" fill="#7d848f"/>
<rect x="780.0" y="892.0" width="2.2" height="4.5" fill="#7d848f"/>
<rect x="785.5" y="892.0" width="2.2" height="4.5" fill="#7d848f"/>
<rect x="791.0" y="892.0" width="2.2" height="4.5" fill="#7d848f"/>
<rect x="796.5" y="892.0" width="2.2" height="4.5" fill="#7d848f"/>
<rect x="802.0" y="828.0" width="3.5" height="9" fill="#6f7884"/>
<rect x="803.0" y="841.5" width="3.5" height="9" fill="#6f7884"/>
<rect x="803.9" y="855.0" width="3.5" height="9" fill="#6f7884"/>
<rect x="804.9" y="868.5" width="3.5" height="9" fill="#6f7884"/>
<rect x="673.6" y="828.0" width="3" height="8" fill="#8a94a4"/>
<rect x="672.2" y="841.0" width="3" height="8" fill="#8a94a4"/>
<rect x="670.9" y="854.0" width="3" height="8" fill="#8a94a4"/>
<path d="M822.3,962.5 Q822.7,958.5 826.7,958.5 L956.7,958.0 Q960.7,958.0 961.1,962.0 L969.3,1049.7 Q970.0,1056.7 963.0,1056.7 L820.0,1057.0 Q813.0,1057.0 813.7,1050.0 Z" fill="#f1f3f6" stroke="#8fbcff" stroke-width="1.2"/>
<ellipse cx="915.7" cy="1000.5" rx="42" ry="24" fill="url(#rtShade)"/>
<path d="M816.6,1030.5 Q816.6,1030.5 816.6,1030.5 L966.5,1030.5 Q966.5,1030.5 966.5,1030.5 L968.4,1049.7 Q969.0,1055.7 963.0,1055.7 L820.0,1056.0 Q814.0,1056.0 814.6,1050.0 Z" fill="url(#rtFront)" />
<polygon points="815.6,1050.7 967.4,1050.7 965.0,1055.7 818.0,1056.0" fill="#c9ced6" />
<polygon points="823.5,960.5 862.7,960.5 862.7,971.5 822.4,971.5" fill="#dde8f8" />
<polygon points="822.4,971.5 862.7,971.5 862.7,1030.5 816.6,1030.5" fill="#c7d3e6" />
<polygon points="819.8,998.5 862.7,998.5 862.7,1030.5 816.6,1030.5" fill="#8893a3" />
<path d="M829.5,974.5 Q829.7,971.5 832.7,971.5 L862.7,971.5 Q862.7,971.5 862.7,971.5 L862.7,1019.5 Q862.7,1019.5 862.7,1019.5 L829.7,1019.5 Q826.7,1019.5 826.9,1016.5 Z" fill="#4dd0f7" />
<polygon points="819.7,1019.5 862.7,1019.5 862.7,1030.5 817.6,1030.5" fill="#5b6676" />
<polygon points="816.6,1030.5 862.7,1030.5 862.7,1056.0 816.1,1056.0" fill="#7f8a9a" />
<polygon points="815.9,1048.0 862.7,1048.0 862.7,1056.0 817.1,1056.0" fill="#5d6776" />
<rect x="849.7" y="1038.5" width="15" height="10" rx="5" fill="#2f8cff"/>
<rect x="863.7" y="1038.5" width="13" height="10" rx="4" fill="#3b4350"/>
<rect x="887.7" y="1036.5" width="2.2" height="4.5" fill="#7d848f"/>
<rect x="893.2" y="1036.5" width="2.2" height="4.5" fill="#7d848f"/>
<rect x="898.7" y="1036.5" width="2.2" height="4.5" fill="#7d848f"/>
<rect x="904.2" y="1036.5" width="2.2" height="4.5" fill="#7d848f"/>
<rect x="909.7" y="1036.5" width="2.2" height="4.5" fill="#7d848f"/>
<rect x="915.2" y="1036.5" width="2.2" height="4.5" fill="#7d848f"/>
<rect x="920.7" y="1036.5" width="2.2" height="4.5" fill="#7d848f"/>
<rect x="926.2" y="1036.5" width="2.2" height="4.5" fill="#7d848f"/>
<rect x="931.7" y="1036.5" width="2.2" height="4.5" fill="#7d848f"/>
<rect x="937.2" y="1036.5" width="2.2" height="4.5" fill="#7d848f"/>
<rect x="942.7" y="1036.5" width="2.2" height="4.5" fill="#7d848f"/>
<rect x="948.2" y="1036.5" width="2.2" height="4.5" fill="#7d848f"/>
<rect x="954.1" y="972.5" width="3.5" height="9" fill="#6f7884"/>
<rect x="955.3" y="986.0" width="3.5" height="9" fill="#6f7884"/>
<rect x="956.6" y="999.5" width="3.5" height="9" fill="#6f7884"/>
<rect x="957.9" y="1013.0" width="3.5" height="9" fill="#6f7884"/>
<rect x="825.3" y="972.5" width="3" height="8" fill="#8a94a4"/>
<rect x="824.0" y="985.5" width="3" height="8" fill="#8a94a4"/>
<rect x="822.8" y="998.5" width="3" height="8" fill="#8a94a4"/>
<path d="M251,978.5 V709.4" stroke="#0070ff" stroke-width="3.9" stroke-dasharray="11.2 9.2" stroke-dashoffset="1.7" fill="none"/>
<path d="M249,976.5 H381.4" stroke="#0070ff" stroke-width="3.9" stroke-dasharray="12.3 8.4" stroke-dashoffset="4.5" fill="none"/>
<circle cx="396.7" cy="976.3" r="9.2" fill="#0070ff"/>
<path d="M1750.4,441.3 V297.2" stroke="#0070ff" stroke-width="3.9" stroke-dasharray="10.4 9.2" stroke-dashoffset="0" fill="none"/>
<path d="M1748.4,299.2 H1972" stroke="#0070ff" stroke-width="3.9" stroke-dasharray="11.8 8.3" stroke-dashoffset="3.9" fill="none"/>
<circle cx="1750.4" cy="455.5" r="9.3" fill="#0070ff"/>
<path d="M2030.1,641.7 H2119.1" stroke="#0070ff" stroke-width="3.9" stroke-dasharray="12.2 8.3" stroke-dashoffset="0" fill="none"/>
<circle cx="2015.2" cy="641.7" r="9.3" fill="#0070ff"/>
<path d="M1518.2,980.5 H1967" stroke="#0070ff" stroke-width="3.9" stroke-dasharray="12 9" stroke-dashoffset="0" fill="none"/>
<circle cx="1502.9" cy="980.5" r="9.4" fill="#0070ff"/>
<path d="M894.2,1122.1 V1226.5" stroke="#0070ff" stroke-width="3.9" stroke-dasharray="11.5 8" stroke-dashoffset="0" fill="none"/>
<path d="M892.2,1224.5 H1370" stroke="#0070ff" stroke-width="3.9" stroke-dasharray="12.1 8.6" stroke-dashoffset="4.1" fill="none"/>
<circle cx="894.1" cy="1108.8" r="9.3" fill="#0070ff"/>
<g fill="#ffffff" stroke="#ffffff" stroke-width="0.4" font-family="Liberation Sans, sans-serif" font-size="36"><text x="15.00" y="532.8" textLength="419.00" lengthAdjust="spacingAndGlyphs">Web application firewall</text>
<text x="15.00" y="576.0" textLength="425.80" lengthAdjust="spacingAndGlyphs">with Intrusion Detection</text>
<text x="14.00" y="619.2" textLength="436.00" lengthAdjust="spacingAndGlyphs">and Prevention System &amp;</text>
<text x="15.00" y="662.4" textLength="374.80" lengthAdjust="spacingAndGlyphs">Anti-DDoS protection</text>
<text x="2000.00" y="271.9" textLength="330.50" lengthAdjust="spacingAndGlyphs">Isolated dedicated</text>
<text x="2001.50" y="315.1" textLength="307.00" lengthAdjust="spacingAndGlyphs">infrastructure for</text>
<text x="2001.50" y="358.3" textLength="328.50" lengthAdjust="spacingAndGlyphs">Custom Plan setup</text>
<text x="2150.90" y="610.7" textLength="295.80" lengthAdjust="spacingAndGlyphs">High-speed fault</text>
<text x="2153.90" y="653.9" textLength="371.60" lengthAdjust="spacingAndGlyphs">tolerant storage with</text>
<text x="2151.90" y="697.1" textLength="390.80" lengthAdjust="spacingAndGlyphs">hardware RAID reserve</text>
<text x="1396.00" y="1217.7" textLength="663.90" lengthAdjust="spacingAndGlyphs">Telecom-grade fault-tolerant network</text>
<text x="1395.00" y="1260.9" textLength="549.80" lengthAdjust="spacingAndGlyphs">equipment with 2x redundancy</text></g>
</svg>
</body></html>
